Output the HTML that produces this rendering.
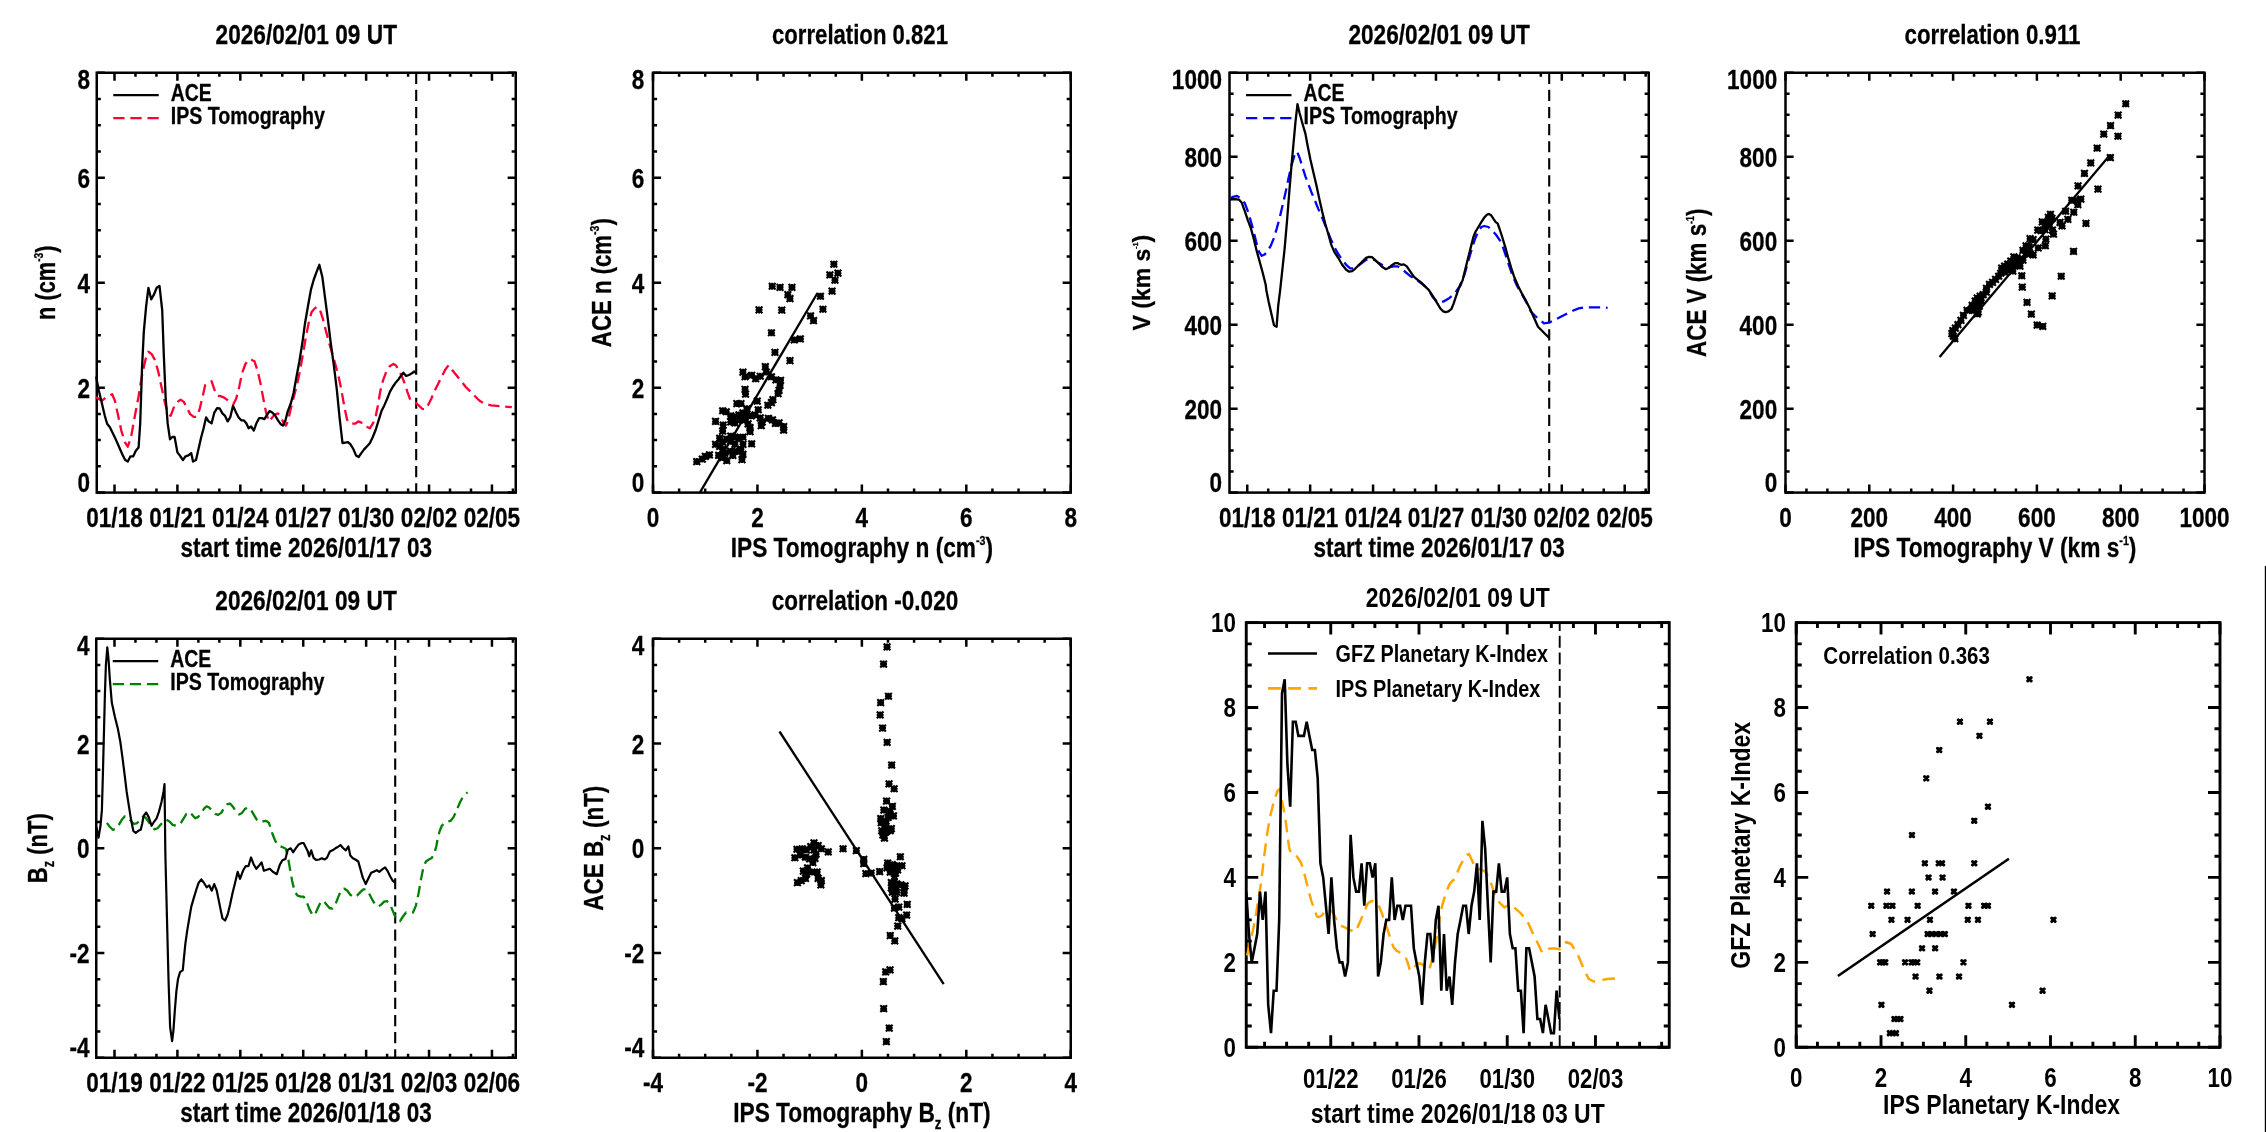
<!DOCTYPE html>
<html><head><meta charset="utf-8"><title>IPS Tomography vs ACE comparison</title>
<style>
html,body{margin:0;padding:0;background:#fff;}
body{width:2266px;height:1132px;overflow:hidden;}
svg{display:block;will-change:transform;font-family:'Liberation Sans', sans-serif;font-weight:bold;}
</style></head><body>
<svg width="2266" height="1132" viewBox="0 0 2266 1132">
<rect x="0" y="0" width="2266" height="1132" fill="#fff"/>
<rect x="96.75" y="72.75" width="419.00" height="419.85" fill="none" stroke="#000" stroke-width="2.5"/>
<path d="M114.50 72.75L114.50 76.85M114.50 492.60L114.50 488.50M135.47 72.75L135.47 76.85M135.47 492.60L135.47 488.50M156.44 72.75L156.44 76.85M156.44 492.60L156.44 488.50M177.41 72.75L177.41 76.85M177.41 492.60L177.41 488.50M198.38 72.75L198.38 76.85M198.38 492.60L198.38 488.50M219.35 72.75L219.35 76.85M219.35 492.60L219.35 488.50M240.32 72.75L240.32 76.85M240.32 492.60L240.32 488.50M261.29 72.75L261.29 76.85M261.29 492.60L261.29 488.50M282.26 72.75L282.26 76.85M282.26 492.60L282.26 488.50M303.23 72.75L303.23 76.85M303.23 492.60L303.23 488.50M324.20 72.75L324.20 76.85M324.20 492.60L324.20 488.50M345.17 72.75L345.17 76.85M345.17 492.60L345.17 488.50M366.14 72.75L366.14 76.85M366.14 492.60L366.14 488.50M387.11 72.75L387.11 76.85M387.11 492.60L387.11 488.50M408.08 72.75L408.08 76.85M408.08 492.60L408.08 488.50M429.05 72.75L429.05 76.85M429.05 492.60L429.05 488.50M450.02 72.75L450.02 76.85M450.02 492.60L450.02 488.50M470.99 72.75L470.99 76.85M470.99 492.60L470.99 488.50M491.96 72.75L491.96 76.85M491.96 492.60L491.96 488.50M512.93 72.75L512.93 76.85M512.93 492.60L512.93 488.50M114.50 72.75L114.50 80.85M114.50 492.60L114.50 484.50M177.41 72.75L177.41 80.85M177.41 492.60L177.41 484.50M240.32 72.75L240.32 80.85M240.32 492.60L240.32 484.50M303.23 72.75L303.23 80.85M303.23 492.60L303.23 484.50M366.14 72.75L366.14 80.85M366.14 492.60L366.14 484.50M429.05 72.75L429.05 80.85M429.05 492.60L429.05 484.50M491.96 72.75L491.96 80.85M491.96 492.60L491.96 484.50M96.75 72.75L100.85 72.75M515.75 72.75L511.65 72.75M96.75 98.99L100.85 98.99M515.75 98.99L511.65 98.99M96.75 125.23L100.85 125.23M515.75 125.23L511.65 125.23M96.75 151.47L100.85 151.47M515.75 151.47L511.65 151.47M96.75 177.71L100.85 177.71M515.75 177.71L511.65 177.71M96.75 203.95L100.85 203.95M515.75 203.95L511.65 203.95M96.75 230.19L100.85 230.19M515.75 230.19L511.65 230.19M96.75 256.43L100.85 256.43M515.75 256.43L511.65 256.43M96.75 282.68L100.85 282.68M515.75 282.68L511.65 282.68M96.75 308.92L100.85 308.92M515.75 308.92L511.65 308.92M96.75 335.16L100.85 335.16M515.75 335.16L511.65 335.16M96.75 361.40L100.85 361.40M515.75 361.40L511.65 361.40M96.75 387.64L100.85 387.64M515.75 387.64L511.65 387.64M96.75 413.88L100.85 413.88M515.75 413.88L511.65 413.88M96.75 440.12L100.85 440.12M515.75 440.12L511.65 440.12M96.75 466.36L100.85 466.36M515.75 466.36L511.65 466.36M96.75 492.60L100.85 492.60M515.75 492.60L511.65 492.60M96.75 72.75L104.85 72.75M515.75 72.75L507.65 72.75M96.75 177.71L104.85 177.71M515.75 177.71L507.65 177.71M96.75 282.68L104.85 282.68M515.75 282.68L507.65 282.68M96.75 387.64L104.85 387.64M515.75 387.64L507.65 387.64M96.75 492.60L104.85 492.60M515.75 492.60L507.65 492.60" stroke="#000" stroke-width="2.5" fill="none"/>
<text transform="translate(114.50,527.30) scale(0.7940,1)" font-size="28.4" text-anchor="middle" fill="#000" stroke="#000" stroke-width="0.3">01/18</text>
<text transform="translate(177.41,527.30) scale(0.7940,1)" font-size="28.4" text-anchor="middle" fill="#000" stroke="#000" stroke-width="0.3">01/21</text>
<text transform="translate(240.32,527.30) scale(0.7940,1)" font-size="28.4" text-anchor="middle" fill="#000" stroke="#000" stroke-width="0.3">01/24</text>
<text transform="translate(303.23,527.30) scale(0.7940,1)" font-size="28.4" text-anchor="middle" fill="#000" stroke="#000" stroke-width="0.3">01/27</text>
<text transform="translate(366.14,527.30) scale(0.7940,1)" font-size="28.4" text-anchor="middle" fill="#000" stroke="#000" stroke-width="0.3">01/30</text>
<text transform="translate(429.05,527.30) scale(0.7940,1)" font-size="28.4" text-anchor="middle" fill="#000" stroke="#000" stroke-width="0.3">02/02</text>
<text transform="translate(491.96,527.30) scale(0.7940,1)" font-size="28.4" text-anchor="middle" fill="#000" stroke="#000" stroke-width="0.3">02/05</text>
<text transform="translate(89.95,89.35) scale(0.7940,1)" font-size="28.4" text-anchor="end" fill="#000" stroke="#000" stroke-width="0.3">8</text>
<text transform="translate(89.95,187.71) scale(0.7940,1)" font-size="28.4" text-anchor="end" fill="#000" stroke="#000" stroke-width="0.3">6</text>
<text transform="translate(89.95,292.68) scale(0.7940,1)" font-size="28.4" text-anchor="end" fill="#000" stroke="#000" stroke-width="0.3">4</text>
<text transform="translate(89.95,397.64) scale(0.7940,1)" font-size="28.4" text-anchor="end" fill="#000" stroke="#000" stroke-width="0.3">2</text>
<text transform="translate(89.95,492.30) scale(0.7940,1)" font-size="28.4" text-anchor="end" fill="#000" stroke="#000" stroke-width="0.3">0</text>
<text transform="translate(306.25,44.05) scale(0.7983,1)" font-size="28.4" text-anchor="middle" fill="#000" stroke="#000" stroke-width="0.3">2026/02/01 09 UT</text>
<text transform="translate(306.25,557.00) scale(0.7925,1)" font-size="28.4" text-anchor="middle" fill="#000" stroke="#000" stroke-width="0.3">start time 2026/01/17 03</text>
<text transform="translate(55.10,282.68) rotate(-90) scale(0.7675,1)" text-anchor="middle" stroke="#000" stroke-width="0.3"><tspan font-size="28.4">n (cm</tspan><tspan dy="-12.07" font-size="13.35">-3</tspan><tspan dy="12.07" font-size="28.4">)</tspan></text>
<line x1="416.20" y1="72.75" x2="416.20" y2="492.60" stroke="#000" stroke-width="2.1" stroke-dasharray="11.2 5.9" stroke-linecap="butt"/>
<polyline points="96.1,397.3 101.8,400.8 107.1,396.2 112.2,394.3 114.9,400.8 117.9,414.5 121.3,430.6 124.8,442.1 127.8,446.7 131.0,437.5 134.7,416.8 138.6,396.2 142.0,375.5 145.5,359.4 148.4,351.8 151.7,354.1 154.6,359.4 158.1,370.9 161.5,387.0 165.0,403.1 168.4,414.5 170.7,415.7 174.2,406.5 177.6,401.9 180.6,399.6 183.8,401.9 186.8,407.6 190.2,414.1 193.7,416.8 196.7,416.8 199.4,409.9 202.2,398.5 205.2,385.1 208.6,382.8 211.6,381.2 214.3,389.3 217.3,395.7 220.5,396.2 223.5,397.3 227.0,399.6 230.4,403.1 233.4,404.2 236.2,398.5 239.2,387.0 242.1,373.2 245.4,364.0 248.8,359.4 251.8,359.9 254.5,361.3 257.3,369.8 260.3,382.4 263.3,398.5 266.0,412.2 268.8,421.4 271.8,418.0 274.7,414.5 278.0,413.4 280.9,416.8 283.9,423.7 286.0,425.6 287.8,421.4 290.8,408.8 294.0,396.2 297.0,384.7 300.0,370.9 302.8,354.8 305.8,337.6 308.7,322.7 311.5,312.3 314.2,308.9 317.0,306.6 320.0,310.0 323.0,319.2 326.2,331.9 329.2,343.3 332.6,354.8 335.6,365.2 338.4,375.5 341.3,389.3 344.1,405.4 346.9,419.1 349.2,423.3 352.1,423.7 355.1,423.7 358.3,421.4 361.3,422.6 364.8,423.7 367.5,427.2 369.8,428.3 372.8,423.7 375.6,416.8 377.9,405.4 380.2,391.6 383.1,380.1 386.6,370.9 390.0,365.9 393.5,364.0 395.8,365.2 398.8,370.4 401.5,375.5 404.3,382.4 407.3,391.6 410.2,399.6 413.0,401.9 416.0,403.1 418.7,405.4 422.2,408.8 425.2,409.5 427.9,405.4 431.4,398.5 434.8,390.4 438.3,383.5 441.7,376.6 445.2,369.8 448.6,365.2 452.0,369.8 456.6,375.5 461.2,381.2 465.8,387.0 470.4,391.6 475.0,396.2 479.6,400.8 484.2,403.5 491.1,405.4 500.3,406.3 511.8,407.2" fill="none" stroke="#ff0033" stroke-width="2.3" stroke-dasharray="11.3 5.8" stroke-linejoin="round" stroke-linecap="butt"/>
<polyline points="96.1,376.6 98.8,390.4 101.8,403.1 104.8,415.7 107.1,423.7 109.9,427.2 114.4,436.4 119.0,446.7 122.5,454.7 125.2,460.0 127.8,461.6 130.5,456.3 133.3,456.3 135.8,450.8 138.6,447.4 140.2,423.7 142.0,368.6 143.8,331.9 146.1,306.6 148.4,287.8 151.2,299.3 153.9,294.7 156.7,287.8 159.5,285.9 162.2,310.0 163.8,354.8 165.7,398.5 167.7,423.7 170.0,439.3 172.3,437.0 174.6,437.0 177.4,452.4 180.1,455.9 182.9,460.0 185.6,456.3 188.4,455.4 191.2,453.1 193.0,461.6 196.0,460.0 198.5,449.0 201.0,438.0 203.6,428.3 206.1,417.3 208.6,421.4 211.6,423.3 214.3,412.7 217.1,408.1 219.6,408.3 222.4,413.4 225.1,415.9 227.7,421.4 230.4,416.8 233.0,405.8 235.7,411.8 238.5,417.3 241.2,420.3 243.7,420.3 246.3,423.3 248.6,428.3 251.1,426.5 253.8,430.6 256.4,423.3 259.1,418.2 261.9,418.2 264.4,419.1 267.2,414.5 269.7,410.9 272.5,412.7 275.2,415.5 278.0,420.3 280.7,424.2 283.0,425.6 285.5,420.3 287.8,411.1 290.8,403.5 293.6,392.7 296.3,377.8 299.3,361.7 302.3,343.3 305.1,322.7 308.3,304.3 311.0,289.4 313.8,279.5 316.5,272.2 319.3,264.8 322.3,276.7 325.0,297.4 328.0,320.4 330.8,343.3 333.8,365.2 336.8,389.3 339.5,416.8 342.5,443.2 345.3,442.6 348.0,442.1 350.5,444.4 353.3,449.0 356.0,455.4 358.6,457.0 361.3,453.1 364.1,449.4 367.1,446.2 369.8,443.2 372.8,437.0 375.8,429.5 378.6,420.3 381.5,411.1 384.3,405.4 387.3,398.5 390.0,391.6 393.0,386.5 395.8,382.4 398.8,378.9 401.5,375.0 403.4,372.7 406.1,376.0 408.9,375.0 411.9,373.2 414.4,371.4 416.0,373.2" fill="none" stroke="#000" stroke-width="2.3" stroke-linejoin="round" stroke-linecap="butt"/>
<line x1="113.25" y1="95.05" x2="158.75" y2="95.05" stroke="#000" stroke-width="2.3" stroke-linecap="butt"/>
<line x1="113.25" y1="118.05" x2="158.75" y2="118.05" stroke="#ff0033" stroke-width="2.3" stroke-dasharray="11.3 5.8" stroke-linecap="butt"/>
<text transform="translate(170.75,100.55) scale(0.8200,1)" font-size="23.7" text-anchor="start" fill="#000" stroke="#000" stroke-width="0.3">ACE</text>
<text transform="translate(170.75,123.75) scale(0.8271,1)" font-size="23.7" text-anchor="start" fill="#000" stroke="#000" stroke-width="0.3">IPS Tomography</text>
<rect x="653.00" y="72.75" width="417.75" height="419.85" fill="none" stroke="#000" stroke-width="2.5"/>
<path d="M653.00 72.75L653.00 76.85M653.00 492.60L653.00 488.50M679.11 72.75L679.11 76.85M679.11 492.60L679.11 488.50M705.22 72.75L705.22 76.85M705.22 492.60L705.22 488.50M731.33 72.75L731.33 76.85M731.33 492.60L731.33 488.50M757.44 72.75L757.44 76.85M757.44 492.60L757.44 488.50M783.55 72.75L783.55 76.85M783.55 492.60L783.55 488.50M809.66 72.75L809.66 76.85M809.66 492.60L809.66 488.50M835.77 72.75L835.77 76.85M835.77 492.60L835.77 488.50M861.88 72.75L861.88 76.85M861.88 492.60L861.88 488.50M887.98 72.75L887.98 76.85M887.98 492.60L887.98 488.50M914.09 72.75L914.09 76.85M914.09 492.60L914.09 488.50M940.20 72.75L940.20 76.85M940.20 492.60L940.20 488.50M966.31 72.75L966.31 76.85M966.31 492.60L966.31 488.50M992.42 72.75L992.42 76.85M992.42 492.60L992.42 488.50M1018.53 72.75L1018.53 76.85M1018.53 492.60L1018.53 488.50M1044.64 72.75L1044.64 76.85M1044.64 492.60L1044.64 488.50M1070.75 72.75L1070.75 76.85M1070.75 492.60L1070.75 488.50M653.00 72.75L653.00 80.85M653.00 492.60L653.00 484.50M757.44 72.75L757.44 80.85M757.44 492.60L757.44 484.50M861.88 72.75L861.88 80.85M861.88 492.60L861.88 484.50M966.31 72.75L966.31 80.85M966.31 492.60L966.31 484.50M1070.75 72.75L1070.75 80.85M1070.75 492.60L1070.75 484.50M653.00 72.75L657.10 72.75M1070.75 72.75L1066.65 72.75M653.00 98.99L657.10 98.99M1070.75 98.99L1066.65 98.99M653.00 125.23L657.10 125.23M1070.75 125.23L1066.65 125.23M653.00 151.47L657.10 151.47M1070.75 151.47L1066.65 151.47M653.00 177.71L657.10 177.71M1070.75 177.71L1066.65 177.71M653.00 203.95L657.10 203.95M1070.75 203.95L1066.65 203.95M653.00 230.19L657.10 230.19M1070.75 230.19L1066.65 230.19M653.00 256.43L657.10 256.43M1070.75 256.43L1066.65 256.43M653.00 282.68L657.10 282.68M1070.75 282.68L1066.65 282.68M653.00 308.92L657.10 308.92M1070.75 308.92L1066.65 308.92M653.00 335.16L657.10 335.16M1070.75 335.16L1066.65 335.16M653.00 361.40L657.10 361.40M1070.75 361.40L1066.65 361.40M653.00 387.64L657.10 387.64M1070.75 387.64L1066.65 387.64M653.00 413.88L657.10 413.88M1070.75 413.88L1066.65 413.88M653.00 440.12L657.10 440.12M1070.75 440.12L1066.65 440.12M653.00 466.36L657.10 466.36M1070.75 466.36L1066.65 466.36M653.00 492.60L657.10 492.60M1070.75 492.60L1066.65 492.60M653.00 72.75L661.10 72.75M1070.75 72.75L1062.65 72.75M653.00 177.71L661.10 177.71M1070.75 177.71L1062.65 177.71M653.00 282.68L661.10 282.68M1070.75 282.68L1062.65 282.68M653.00 387.64L661.10 387.64M1070.75 387.64L1062.65 387.64M653.00 492.60L661.10 492.60M1070.75 492.60L1062.65 492.60" stroke="#000" stroke-width="2.5" fill="none"/>
<text transform="translate(653.00,527.30) scale(0.7940,1)" font-size="28.4" text-anchor="middle" fill="#000" stroke="#000" stroke-width="0.3">0</text>
<text transform="translate(757.44,527.30) scale(0.7940,1)" font-size="28.4" text-anchor="middle" fill="#000" stroke="#000" stroke-width="0.3">2</text>
<text transform="translate(861.88,527.30) scale(0.7940,1)" font-size="28.4" text-anchor="middle" fill="#000" stroke="#000" stroke-width="0.3">4</text>
<text transform="translate(966.31,527.30) scale(0.7940,1)" font-size="28.4" text-anchor="middle" fill="#000" stroke="#000" stroke-width="0.3">6</text>
<text transform="translate(1070.75,527.30) scale(0.7940,1)" font-size="28.4" text-anchor="middle" fill="#000" stroke="#000" stroke-width="0.3">8</text>
<text transform="translate(644.30,89.35) scale(0.7940,1)" font-size="28.4" text-anchor="end" fill="#000" stroke="#000" stroke-width="0.3">8</text>
<text transform="translate(644.30,187.71) scale(0.7940,1)" font-size="28.4" text-anchor="end" fill="#000" stroke="#000" stroke-width="0.3">6</text>
<text transform="translate(644.30,292.68) scale(0.7940,1)" font-size="28.4" text-anchor="end" fill="#000" stroke="#000" stroke-width="0.3">4</text>
<text transform="translate(644.30,397.64) scale(0.7940,1)" font-size="28.4" text-anchor="end" fill="#000" stroke="#000" stroke-width="0.3">2</text>
<text transform="translate(644.30,492.30) scale(0.7940,1)" font-size="28.4" text-anchor="end" fill="#000" stroke="#000" stroke-width="0.3">0</text>
<text transform="translate(859.98,44.05) scale(0.7797,1)" font-size="28.4" text-anchor="middle" fill="#000" stroke="#000" stroke-width="0.3">correlation 0.821</text>
<text transform="translate(861.88,557.00) scale(0.7991,1)" text-anchor="middle" stroke="#000" stroke-width="0.3"><tspan font-size="28.4">IPS Tomography n (cm</tspan><tspan dy="-12.07" font-size="13.35">-3</tspan><tspan dy="12.07" font-size="28.4">)</tspan></text>
<text transform="translate(610.60,282.68) rotate(-90) scale(0.7822,1)" text-anchor="middle" stroke="#000" stroke-width="0.3"><tspan font-size="28.4">ACE n (cm</tspan><tspan dy="-12.07" font-size="13.35">-3</tspan><tspan dy="12.07" font-size="28.4">)</tspan></text>
<path d="M830.4 264.2h6.9M833.9 260.8v6.9M830.5 260.9l6.7 6.7M830.5 267.6l6.7 -6.7M834.5 273.2h6.9M837.9 269.7v6.9M834.6 269.8l6.7 6.7M834.6 276.5l6.7 -6.7M826.4 274.9h6.9M829.8 271.4v6.9M826.5 271.5l6.7 6.7M826.5 278.2l6.7 -6.7M831.5 280.3h6.9M834.9 276.8v6.9M831.6 276.9l6.7 6.7M831.6 283.6l6.7 -6.7M828.6 291.1h6.9M832.1 287.7v6.9M828.7 287.8l6.7 6.7M828.7 294.5l6.7 -6.7M817.0 296.2h6.9M820.5 292.8v6.9M817.1 292.9l6.7 6.7M817.1 299.6l6.7 -6.7M819.5 309.2h6.9M822.9 305.8v6.9M819.6 305.9l6.7 6.7M819.6 312.6l6.7 -6.7M807.1 315.8h6.9M810.5 312.4v6.9M807.2 312.5l6.7 6.7M807.2 319.2l6.7 -6.7M810.1 320.6h6.9M813.6 317.1v6.9M810.2 317.2l6.7 6.7M810.2 323.9l6.7 -6.7M768.8 286.3h6.9M772.2 282.8v6.9M768.9 282.9l6.7 6.7M768.9 289.6l6.7 -6.7M776.6 287.4h6.9M780.1 283.9v6.9M776.7 284.0l6.7 6.7M776.7 290.7l6.7 -6.7M788.5 287.4h6.9M791.9 283.9v6.9M788.6 284.0l6.7 6.7M788.6 290.7l6.7 -6.7M784.4 294.7h6.9M787.9 291.2v6.9M784.5 291.3l6.7 6.7M784.5 298.0l6.7 -6.7M786.5 298.6h6.9M789.9 295.1v6.9M786.6 295.2l6.7 6.7M786.6 301.9l6.7 -6.7M755.6 309.9h6.9M759.0 306.5v6.9M755.7 306.6l6.7 6.7M755.7 313.3l6.7 -6.7M778.3 310.1h6.9M781.8 306.7v6.9M778.4 306.8l6.7 6.7M778.4 313.5l6.7 -6.7M768.0 332.8h6.9M771.4 329.3v6.9M768.1 329.4l6.7 6.7M768.1 336.1l6.7 -6.7M790.8 339.9h6.9M794.3 336.4v6.9M790.9 336.5l6.7 6.7M790.9 343.2l6.7 -6.7M796.9 338.9h6.9M800.4 335.4v6.9M797.0 335.5l6.7 6.7M797.0 342.2l6.7 -6.7M771.5 352.4h6.9M775.0 348.9v6.9M771.6 349.0l6.7 6.7M771.6 355.7l6.7 -6.7M786.5 360.5h6.9M789.9 357.1v6.9M786.6 357.2l6.7 6.7M786.6 363.9l6.7 -6.7M761.9 366.6h6.9M765.3 363.2v6.9M762.0 363.3l6.7 6.7M762.0 369.9l6.7 -6.7M739.5 372.2h6.9M743.0 368.7v6.9M739.6 368.8l6.7 6.7M739.6 375.5l6.7 -6.7M741.6 376.8h6.9M745.0 373.3v6.9M741.7 373.4l6.7 6.7M741.7 380.1l6.7 -6.7M748.2 375.2h6.9M751.6 371.8v6.9M748.3 371.9l6.7 6.7M748.3 378.6l6.7 -6.7M752.2 378.8h6.9M755.7 375.3v6.9M752.3 375.4l6.7 6.7M752.3 382.1l6.7 -6.7M756.8 376.3h6.9M760.2 372.8v6.9M756.9 372.9l6.7 6.7M756.9 379.6l6.7 -6.7M762.9 372.2h6.9M766.3 368.7v6.9M763.0 368.8l6.7 6.7M763.0 375.5l6.7 -6.7M768.0 376.8h6.9M771.4 373.3v6.9M768.1 373.4l6.7 6.7M768.1 380.1l6.7 -6.7M772.5 379.8h6.9M776.0 376.4v6.9M772.6 376.5l6.7 6.7M772.6 383.2l6.7 -6.7M777.1 380.3h6.9M780.6 376.9v6.9M777.2 377.0l6.7 6.7M777.2 383.7l6.7 -6.7M776.6 385.4h6.9M780.1 381.9v6.9M776.7 382.0l6.7 6.7M776.7 388.7l6.7 -6.7M775.6 390.5h6.9M779.0 387.0v6.9M775.7 387.1l6.7 6.7M775.7 393.8l6.7 -6.7M774.6 393.5h6.9M778.0 390.1v6.9M774.7 390.2l6.7 6.7M774.7 396.9l6.7 -6.7M741.6 389.5h6.9M745.0 386.0v6.9M741.7 386.1l6.7 6.7M741.7 392.8l6.7 -6.7M742.1 394.0h6.9M745.5 390.6v6.9M742.2 390.7l6.7 6.7M742.2 397.4l6.7 -6.7M769.5 399.6h6.9M772.9 396.2v6.9M769.6 396.3l6.7 6.7M769.6 403.0l6.7 -6.7M768.0 402.7h6.9M771.4 399.2v6.9M768.1 399.3l6.7 6.7M768.1 406.0l6.7 -6.7M764.4 405.2h6.9M767.9 401.8v6.9M764.5 401.9l6.7 6.7M764.5 408.5l6.7 -6.7M753.7 401.1h6.9M757.2 397.7v6.9M753.9 397.8l6.7 6.7M753.9 404.5l6.7 -6.7M733.4 403.7h6.9M736.9 400.2v6.9M733.5 400.3l6.7 6.7M733.5 407.0l6.7 -6.7M737.5 403.7h6.9M740.9 400.2v6.9M737.6 400.3l6.7 6.7M737.6 407.0l6.7 -6.7M743.6 408.8h6.9M747.0 405.3v6.9M743.7 405.4l6.7 6.7M743.7 412.1l6.7 -6.7M754.8 409.8h6.9M758.2 406.3v6.9M754.9 406.4l6.7 6.7M754.9 413.1l6.7 -6.7M719.2 410.8h6.9M722.7 407.3v6.9M719.3 407.4l6.7 6.7M719.3 414.1l6.7 -6.7M722.8 411.8h6.9M726.2 408.4v6.9M722.9 408.5l6.7 6.7M722.9 415.1l6.7 -6.7M727.3 415.9h6.9M730.8 412.4v6.9M727.4 412.5l6.7 6.7M727.4 419.2l6.7 -6.7M731.4 416.9h6.9M734.9 413.4v6.9M731.5 413.5l6.7 6.7M731.5 420.2l6.7 -6.7M735.5 414.9h6.9M738.9 411.4v6.9M735.6 411.5l6.7 6.7M735.6 418.2l6.7 -6.7M739.5 412.8h6.9M743.0 409.4v6.9M739.6 409.5l6.7 6.7M739.6 416.2l6.7 -6.7M743.6 413.8h6.9M747.0 410.4v6.9M743.7 410.5l6.7 6.7M743.7 417.2l6.7 -6.7M747.7 415.9h6.9M751.1 412.4v6.9M747.8 412.5l6.7 6.7M747.8 419.2l6.7 -6.7M751.7 414.9h6.9M755.2 411.4v6.9M751.8 411.5l6.7 6.7M751.8 418.2l6.7 -6.7M756.8 417.9h6.9M760.2 414.4v6.9M756.9 414.6l6.7 6.7M756.9 421.2l6.7 -6.7M758.8 422.0h6.9M762.3 418.5v6.9M758.9 418.6l6.7 6.7M758.9 425.3l6.7 -6.7M757.8 425.5h6.9M761.3 422.1v6.9M757.9 422.2l6.7 6.7M757.9 428.9l6.7 -6.7M764.9 418.4h6.9M768.4 415.0v6.9M765.0 415.1l6.7 6.7M765.0 421.8l6.7 -6.7M769.0 419.9h6.9M772.4 416.5v6.9M769.1 416.6l6.7 6.7M769.1 423.3l6.7 -6.7M772.0 423.5h6.9M775.5 420.0v6.9M772.1 420.1l6.7 6.7M772.1 426.8l6.7 -6.7M775.6 423.0h6.9M779.0 419.5v6.9M775.7 419.6l6.7 6.7M775.7 426.3l6.7 -6.7M780.2 426.5h6.9M783.6 423.1v6.9M780.3 423.2l6.7 6.7M780.3 429.9l6.7 -6.7M780.2 430.1h6.9M783.6 426.6v6.9M780.3 426.7l6.7 6.7M780.3 433.4l6.7 -6.7M712.1 421.5h6.9M715.6 418.0v6.9M712.2 418.1l6.7 6.7M712.2 424.8l6.7 -6.7M719.7 425.0h6.9M723.2 421.6v6.9M719.8 421.7l6.7 6.7M719.8 428.4l6.7 -6.7M719.2 431.1h6.9M722.7 427.7v6.9M719.3 427.8l6.7 6.7M719.3 434.4l6.7 -6.7M727.3 422.0h6.9M730.8 418.5v6.9M727.4 418.6l6.7 6.7M727.4 425.3l6.7 -6.7M731.4 423.0h6.9M734.9 419.5v6.9M731.5 419.6l6.7 6.7M731.5 426.3l6.7 -6.7M736.5 419.9h6.9M739.9 416.5v6.9M736.6 416.6l6.7 6.7M736.6 423.3l6.7 -6.7M741.6 419.9h6.9M745.0 416.5v6.9M741.7 416.6l6.7 6.7M741.7 423.3l6.7 -6.7M744.6 424.0h6.9M748.1 420.5v6.9M744.7 420.6l6.7 6.7M744.7 427.3l6.7 -6.7M746.6 427.5h6.9M750.1 424.1v6.9M746.7 424.2l6.7 6.7M746.7 430.9l6.7 -6.7M746.6 431.6h6.9M750.1 428.2v6.9M746.7 428.3l6.7 6.7M746.7 435.0l6.7 -6.7M727.3 436.2h6.9M730.8 432.7v6.9M727.4 432.8l6.7 6.7M727.4 439.5l6.7 -6.7M731.4 437.2h6.9M734.9 433.7v6.9M731.5 433.9l6.7 6.7M731.5 440.5l6.7 -6.7M735.5 437.7h6.9M738.9 434.3v6.9M735.6 434.4l6.7 6.7M735.6 441.1l6.7 -6.7M739.5 437.2h6.9M743.0 433.7v6.9M739.6 433.9l6.7 6.7M739.6 440.5l6.7 -6.7M716.2 438.2h6.9M719.6 434.8v6.9M716.3 434.9l6.7 6.7M716.3 441.6l6.7 -6.7M719.2 442.3h6.9M722.7 438.8v6.9M719.3 438.9l6.7 6.7M719.3 445.6l6.7 -6.7M712.1 444.3h6.9M715.6 440.9v6.9M712.2 441.0l6.7 6.7M712.2 447.7l6.7 -6.7M716.2 446.3h6.9M719.6 442.9v6.9M716.3 443.0l6.7 6.7M716.3 449.7l6.7 -6.7M719.2 449.4h6.9M722.7 445.9v6.9M719.3 446.0l6.7 6.7M719.3 452.7l6.7 -6.7M723.3 439.2h6.9M726.7 435.8v6.9M723.4 435.9l6.7 6.7M723.4 442.6l6.7 -6.7M727.3 441.3h6.9M730.8 437.8v6.9M727.4 437.9l6.7 6.7M727.4 444.6l6.7 -6.7M731.4 444.3h6.9M734.9 440.9v6.9M731.5 441.0l6.7 6.7M731.5 447.7l6.7 -6.7M739.5 444.3h6.9M743.0 440.9v6.9M739.6 441.0l6.7 6.7M739.6 447.7l6.7 -6.7M748.2 443.8h6.9M751.6 440.3v6.9M748.3 440.5l6.7 6.7M748.3 447.1l6.7 -6.7M737.5 449.4h6.9M740.9 445.9v6.9M737.6 446.0l6.7 6.7M737.6 452.7l6.7 -6.7M733.4 451.4h6.9M736.9 448.0v6.9M733.5 448.1l6.7 6.7M733.5 454.8l6.7 -6.7M727.3 451.4h6.9M730.8 448.0v6.9M727.4 448.1l6.7 6.7M727.4 454.8l6.7 -6.7M721.2 453.4h6.9M724.7 450.0v6.9M721.3 450.1l6.7 6.7M721.3 456.8l6.7 -6.7M715.1 455.5h6.9M718.6 452.0v6.9M715.3 452.1l6.7 6.7M715.3 458.8l6.7 -6.7M719.2 457.5h6.9M722.7 454.1v6.9M719.3 454.2l6.7 6.7M719.3 460.9l6.7 -6.7M723.3 460.6h6.9M726.7 457.1v6.9M723.4 457.2l6.7 6.7M723.4 463.9l6.7 -6.7M739.5 454.5h6.9M743.0 451.0v6.9M739.6 451.1l6.7 6.7M739.6 457.8l6.7 -6.7M738.5 459.5h6.9M742.0 456.1v6.9M738.6 456.2l6.7 6.7M738.6 462.9l6.7 -6.7M729.4 455.5h6.9M732.8 452.0v6.9M729.5 452.1l6.7 6.7M729.5 458.8l6.7 -6.7M706.0 455.0h6.9M709.5 451.5v6.9M706.1 451.6l6.7 6.7M706.1 458.3l6.7 -6.7M701.9 456.5h6.9M705.4 453.0v6.9M702.0 453.1l6.7 6.7M702.0 459.8l6.7 -6.7M698.9 459.0h6.9M702.3 455.6v6.9M699.0 455.7l6.7 6.7M699.0 462.4l6.7 -6.7M693.3 461.6h6.9M696.8 458.1v6.9M693.4 458.2l6.7 6.7M693.4 464.9l6.7 -6.7" stroke="#000" stroke-width="2.1" fill="none"/>
<path d="M831.0 264.2a2.9 2.9 0 1 0 5.8 0a2.9 2.9 0 1 0 -5.8 0zM835.0 273.2a2.9 2.9 0 1 0 5.8 0a2.9 2.9 0 1 0 -5.8 0zM826.9 274.9a2.9 2.9 0 1 0 5.8 0a2.9 2.9 0 1 0 -5.8 0zM832.0 280.3a2.9 2.9 0 1 0 5.8 0a2.9 2.9 0 1 0 -5.8 0zM829.2 291.1a2.9 2.9 0 1 0 5.8 0a2.9 2.9 0 1 0 -5.8 0zM817.6 296.2a2.9 2.9 0 1 0 5.8 0a2.9 2.9 0 1 0 -5.8 0zM820.0 309.2a2.9 2.9 0 1 0 5.8 0a2.9 2.9 0 1 0 -5.8 0zM807.6 315.8a2.9 2.9 0 1 0 5.8 0a2.9 2.9 0 1 0 -5.8 0zM810.7 320.6a2.9 2.9 0 1 0 5.8 0a2.9 2.9 0 1 0 -5.8 0zM769.3 286.3a2.9 2.9 0 1 0 5.8 0a2.9 2.9 0 1 0 -5.8 0zM777.2 287.4a2.9 2.9 0 1 0 5.8 0a2.9 2.9 0 1 0 -5.8 0zM789.0 287.4a2.9 2.9 0 1 0 5.8 0a2.9 2.9 0 1 0 -5.8 0zM785.0 294.7a2.9 2.9 0 1 0 5.8 0a2.9 2.9 0 1 0 -5.8 0zM787.0 298.6a2.9 2.9 0 1 0 5.8 0a2.9 2.9 0 1 0 -5.8 0zM756.1 309.9a2.9 2.9 0 1 0 5.8 0a2.9 2.9 0 1 0 -5.8 0zM778.9 310.1a2.9 2.9 0 1 0 5.8 0a2.9 2.9 0 1 0 -5.8 0zM768.5 332.8a2.9 2.9 0 1 0 5.8 0a2.9 2.9 0 1 0 -5.8 0zM791.4 339.9a2.9 2.9 0 1 0 5.8 0a2.9 2.9 0 1 0 -5.8 0zM797.5 338.9a2.9 2.9 0 1 0 5.8 0a2.9 2.9 0 1 0 -5.8 0zM772.1 352.4a2.9 2.9 0 1 0 5.8 0a2.9 2.9 0 1 0 -5.8 0zM787.0 360.5a2.9 2.9 0 1 0 5.8 0a2.9 2.9 0 1 0 -5.8 0zM762.4 366.6a2.9 2.9 0 1 0 5.8 0a2.9 2.9 0 1 0 -5.8 0zM740.1 372.2a2.9 2.9 0 1 0 5.8 0a2.9 2.9 0 1 0 -5.8 0zM742.1 376.8a2.9 2.9 0 1 0 5.8 0a2.9 2.9 0 1 0 -5.8 0zM748.7 375.2a2.9 2.9 0 1 0 5.8 0a2.9 2.9 0 1 0 -5.8 0zM752.8 378.8a2.9 2.9 0 1 0 5.8 0a2.9 2.9 0 1 0 -5.8 0zM757.3 376.3a2.9 2.9 0 1 0 5.8 0a2.9 2.9 0 1 0 -5.8 0zM763.4 372.2a2.9 2.9 0 1 0 5.8 0a2.9 2.9 0 1 0 -5.8 0zM768.5 376.8a2.9 2.9 0 1 0 5.8 0a2.9 2.9 0 1 0 -5.8 0zM773.1 379.8a2.9 2.9 0 1 0 5.8 0a2.9 2.9 0 1 0 -5.8 0zM777.7 380.3a2.9 2.9 0 1 0 5.8 0a2.9 2.9 0 1 0 -5.8 0zM777.2 385.4a2.9 2.9 0 1 0 5.8 0a2.9 2.9 0 1 0 -5.8 0zM776.1 390.5a2.9 2.9 0 1 0 5.8 0a2.9 2.9 0 1 0 -5.8 0zM775.1 393.5a2.9 2.9 0 1 0 5.8 0a2.9 2.9 0 1 0 -5.8 0zM742.1 389.5a2.9 2.9 0 1 0 5.8 0a2.9 2.9 0 1 0 -5.8 0zM742.6 394.0a2.9 2.9 0 1 0 5.8 0a2.9 2.9 0 1 0 -5.8 0zM770.0 399.6a2.9 2.9 0 1 0 5.8 0a2.9 2.9 0 1 0 -5.8 0zM768.5 402.7a2.9 2.9 0 1 0 5.8 0a2.9 2.9 0 1 0 -5.8 0zM765.0 405.2a2.9 2.9 0 1 0 5.8 0a2.9 2.9 0 1 0 -5.8 0zM754.3 401.1a2.9 2.9 0 1 0 5.8 0a2.9 2.9 0 1 0 -5.8 0zM734.0 403.7a2.9 2.9 0 1 0 5.8 0a2.9 2.9 0 1 0 -5.8 0zM738.0 403.7a2.9 2.9 0 1 0 5.8 0a2.9 2.9 0 1 0 -5.8 0zM744.1 408.8a2.9 2.9 0 1 0 5.8 0a2.9 2.9 0 1 0 -5.8 0zM755.3 409.8a2.9 2.9 0 1 0 5.8 0a2.9 2.9 0 1 0 -5.8 0zM719.8 410.8a2.9 2.9 0 1 0 5.8 0a2.9 2.9 0 1 0 -5.8 0zM723.3 411.8a2.9 2.9 0 1 0 5.8 0a2.9 2.9 0 1 0 -5.8 0zM727.9 415.9a2.9 2.9 0 1 0 5.8 0a2.9 2.9 0 1 0 -5.8 0zM732.0 416.9a2.9 2.9 0 1 0 5.8 0a2.9 2.9 0 1 0 -5.8 0zM736.0 414.9a2.9 2.9 0 1 0 5.8 0a2.9 2.9 0 1 0 -5.8 0zM740.1 412.8a2.9 2.9 0 1 0 5.8 0a2.9 2.9 0 1 0 -5.8 0zM744.1 413.8a2.9 2.9 0 1 0 5.8 0a2.9 2.9 0 1 0 -5.8 0zM748.2 415.9a2.9 2.9 0 1 0 5.8 0a2.9 2.9 0 1 0 -5.8 0zM752.3 414.9a2.9 2.9 0 1 0 5.8 0a2.9 2.9 0 1 0 -5.8 0zM757.3 417.9a2.9 2.9 0 1 0 5.8 0a2.9 2.9 0 1 0 -5.8 0zM759.4 422.0a2.9 2.9 0 1 0 5.8 0a2.9 2.9 0 1 0 -5.8 0zM758.4 425.5a2.9 2.9 0 1 0 5.8 0a2.9 2.9 0 1 0 -5.8 0zM765.5 418.4a2.9 2.9 0 1 0 5.8 0a2.9 2.9 0 1 0 -5.8 0zM769.5 419.9a2.9 2.9 0 1 0 5.8 0a2.9 2.9 0 1 0 -5.8 0zM772.6 423.5a2.9 2.9 0 1 0 5.8 0a2.9 2.9 0 1 0 -5.8 0zM776.1 423.0a2.9 2.9 0 1 0 5.8 0a2.9 2.9 0 1 0 -5.8 0zM780.7 426.5a2.9 2.9 0 1 0 5.8 0a2.9 2.9 0 1 0 -5.8 0zM780.7 430.1a2.9 2.9 0 1 0 5.8 0a2.9 2.9 0 1 0 -5.8 0zM712.7 421.5a2.9 2.9 0 1 0 5.8 0a2.9 2.9 0 1 0 -5.8 0zM720.3 425.0a2.9 2.9 0 1 0 5.8 0a2.9 2.9 0 1 0 -5.8 0zM719.8 431.1a2.9 2.9 0 1 0 5.8 0a2.9 2.9 0 1 0 -5.8 0zM727.9 422.0a2.9 2.9 0 1 0 5.8 0a2.9 2.9 0 1 0 -5.8 0zM732.0 423.0a2.9 2.9 0 1 0 5.8 0a2.9 2.9 0 1 0 -5.8 0zM737.0 419.9a2.9 2.9 0 1 0 5.8 0a2.9 2.9 0 1 0 -5.8 0zM742.1 419.9a2.9 2.9 0 1 0 5.8 0a2.9 2.9 0 1 0 -5.8 0zM745.2 424.0a2.9 2.9 0 1 0 5.8 0a2.9 2.9 0 1 0 -5.8 0zM747.2 427.5a2.9 2.9 0 1 0 5.8 0a2.9 2.9 0 1 0 -5.8 0zM747.2 431.6a2.9 2.9 0 1 0 5.8 0a2.9 2.9 0 1 0 -5.8 0zM727.9 436.2a2.9 2.9 0 1 0 5.8 0a2.9 2.9 0 1 0 -5.8 0zM732.0 437.2a2.9 2.9 0 1 0 5.8 0a2.9 2.9 0 1 0 -5.8 0zM736.0 437.7a2.9 2.9 0 1 0 5.8 0a2.9 2.9 0 1 0 -5.8 0zM740.1 437.2a2.9 2.9 0 1 0 5.8 0a2.9 2.9 0 1 0 -5.8 0zM716.7 438.2a2.9 2.9 0 1 0 5.8 0a2.9 2.9 0 1 0 -5.8 0zM719.8 442.3a2.9 2.9 0 1 0 5.8 0a2.9 2.9 0 1 0 -5.8 0zM712.7 444.3a2.9 2.9 0 1 0 5.8 0a2.9 2.9 0 1 0 -5.8 0zM716.7 446.3a2.9 2.9 0 1 0 5.8 0a2.9 2.9 0 1 0 -5.8 0zM719.8 449.4a2.9 2.9 0 1 0 5.8 0a2.9 2.9 0 1 0 -5.8 0zM723.8 439.2a2.9 2.9 0 1 0 5.8 0a2.9 2.9 0 1 0 -5.8 0zM727.9 441.3a2.9 2.9 0 1 0 5.8 0a2.9 2.9 0 1 0 -5.8 0zM732.0 444.3a2.9 2.9 0 1 0 5.8 0a2.9 2.9 0 1 0 -5.8 0zM740.1 444.3a2.9 2.9 0 1 0 5.8 0a2.9 2.9 0 1 0 -5.8 0zM748.7 443.8a2.9 2.9 0 1 0 5.8 0a2.9 2.9 0 1 0 -5.8 0zM738.0 449.4a2.9 2.9 0 1 0 5.8 0a2.9 2.9 0 1 0 -5.8 0zM734.0 451.4a2.9 2.9 0 1 0 5.8 0a2.9 2.9 0 1 0 -5.8 0zM727.9 451.4a2.9 2.9 0 1 0 5.8 0a2.9 2.9 0 1 0 -5.8 0zM721.8 453.4a2.9 2.9 0 1 0 5.8 0a2.9 2.9 0 1 0 -5.8 0zM715.7 455.5a2.9 2.9 0 1 0 5.8 0a2.9 2.9 0 1 0 -5.8 0zM719.8 457.5a2.9 2.9 0 1 0 5.8 0a2.9 2.9 0 1 0 -5.8 0zM723.8 460.6a2.9 2.9 0 1 0 5.8 0a2.9 2.9 0 1 0 -5.8 0zM740.1 454.5a2.9 2.9 0 1 0 5.8 0a2.9 2.9 0 1 0 -5.8 0zM739.1 459.5a2.9 2.9 0 1 0 5.8 0a2.9 2.9 0 1 0 -5.8 0zM729.9 455.5a2.9 2.9 0 1 0 5.8 0a2.9 2.9 0 1 0 -5.8 0zM706.6 455.0a2.9 2.9 0 1 0 5.8 0a2.9 2.9 0 1 0 -5.8 0zM702.5 456.5a2.9 2.9 0 1 0 5.8 0a2.9 2.9 0 1 0 -5.8 0zM699.4 459.0a2.9 2.9 0 1 0 5.8 0a2.9 2.9 0 1 0 -5.8 0zM693.9 461.6a2.9 2.9 0 1 0 5.8 0a2.9 2.9 0 1 0 -5.8 0z" fill="#000"/>
<line x1="700.00" y1="492.30" x2="817.50" y2="293.00" stroke="#000" stroke-width="2.3" stroke-linecap="butt"/>
<rect x="1229.50" y="72.75" width="419.25" height="419.85" fill="none" stroke="#000" stroke-width="2.5"/>
<path d="M1247.25 72.75L1247.25 76.85M1247.25 492.60L1247.25 488.50M1268.22 72.75L1268.22 76.85M1268.22 492.60L1268.22 488.50M1289.19 72.75L1289.19 76.85M1289.19 492.60L1289.19 488.50M1310.16 72.75L1310.16 76.85M1310.16 492.60L1310.16 488.50M1331.13 72.75L1331.13 76.85M1331.13 492.60L1331.13 488.50M1352.10 72.75L1352.10 76.85M1352.10 492.60L1352.10 488.50M1373.07 72.75L1373.07 76.85M1373.07 492.60L1373.07 488.50M1394.04 72.75L1394.04 76.85M1394.04 492.60L1394.04 488.50M1415.01 72.75L1415.01 76.85M1415.01 492.60L1415.01 488.50M1435.98 72.75L1435.98 76.85M1435.98 492.60L1435.98 488.50M1456.95 72.75L1456.95 76.85M1456.95 492.60L1456.95 488.50M1477.92 72.75L1477.92 76.85M1477.92 492.60L1477.92 488.50M1498.89 72.75L1498.89 76.85M1498.89 492.60L1498.89 488.50M1519.86 72.75L1519.86 76.85M1519.86 492.60L1519.86 488.50M1540.83 72.75L1540.83 76.85M1540.83 492.60L1540.83 488.50M1561.80 72.75L1561.80 76.85M1561.80 492.60L1561.80 488.50M1582.77 72.75L1582.77 76.85M1582.77 492.60L1582.77 488.50M1603.74 72.75L1603.74 76.85M1603.74 492.60L1603.74 488.50M1624.71 72.75L1624.71 76.85M1624.71 492.60L1624.71 488.50M1645.68 72.75L1645.68 76.85M1645.68 492.60L1645.68 488.50M1247.25 72.75L1247.25 80.85M1247.25 492.60L1247.25 484.50M1310.16 72.75L1310.16 80.85M1310.16 492.60L1310.16 484.50M1373.07 72.75L1373.07 80.85M1373.07 492.60L1373.07 484.50M1435.98 72.75L1435.98 80.85M1435.98 492.60L1435.98 484.50M1498.89 72.75L1498.89 80.85M1498.89 492.60L1498.89 484.50M1561.80 72.75L1561.80 80.85M1561.80 492.60L1561.80 484.50M1624.71 72.75L1624.71 80.85M1624.71 492.60L1624.71 484.50M1229.50 72.75L1233.60 72.75M1648.75 72.75L1644.65 72.75M1229.50 93.74L1233.60 93.74M1648.75 93.74L1644.65 93.74M1229.50 114.73L1233.60 114.73M1648.75 114.73L1644.65 114.73M1229.50 135.73L1233.60 135.73M1648.75 135.73L1644.65 135.73M1229.50 156.72L1233.60 156.72M1648.75 156.72L1644.65 156.72M1229.50 177.71L1233.60 177.71M1648.75 177.71L1644.65 177.71M1229.50 198.70L1233.60 198.70M1648.75 198.70L1644.65 198.70M1229.50 219.70L1233.60 219.70M1648.75 219.70L1644.65 219.70M1229.50 240.69L1233.60 240.69M1648.75 240.69L1644.65 240.69M1229.50 261.68L1233.60 261.68M1648.75 261.68L1644.65 261.68M1229.50 282.68L1233.60 282.68M1648.75 282.68L1644.65 282.68M1229.50 303.67L1233.60 303.67M1648.75 303.67L1644.65 303.67M1229.50 324.66L1233.60 324.66M1648.75 324.66L1644.65 324.66M1229.50 345.65L1233.60 345.65M1648.75 345.65L1644.65 345.65M1229.50 366.64L1233.60 366.64M1648.75 366.64L1644.65 366.64M1229.50 387.64L1233.60 387.64M1648.75 387.64L1644.65 387.64M1229.50 408.63L1233.60 408.63M1648.75 408.63L1644.65 408.63M1229.50 429.62L1233.60 429.62M1648.75 429.62L1644.65 429.62M1229.50 450.62L1233.60 450.62M1648.75 450.62L1644.65 450.62M1229.50 471.61L1233.60 471.61M1648.75 471.61L1644.65 471.61M1229.50 492.60L1233.60 492.60M1648.75 492.60L1644.65 492.60M1229.50 72.75L1237.60 72.75M1648.75 72.75L1640.65 72.75M1229.50 156.72L1237.60 156.72M1648.75 156.72L1640.65 156.72M1229.50 240.69L1237.60 240.69M1648.75 240.69L1640.65 240.69M1229.50 324.66L1237.60 324.66M1648.75 324.66L1640.65 324.66M1229.50 408.63L1237.60 408.63M1648.75 408.63L1640.65 408.63M1229.50 492.60L1237.60 492.60M1648.75 492.60L1640.65 492.60" stroke="#000" stroke-width="2.5" fill="none"/>
<text transform="translate(1247.25,527.30) scale(0.7940,1)" font-size="28.4" text-anchor="middle" fill="#000" stroke="#000" stroke-width="0.3">01/18</text>
<text transform="translate(1310.16,527.30) scale(0.7940,1)" font-size="28.4" text-anchor="middle" fill="#000" stroke="#000" stroke-width="0.3">01/21</text>
<text transform="translate(1373.07,527.30) scale(0.7940,1)" font-size="28.4" text-anchor="middle" fill="#000" stroke="#000" stroke-width="0.3">01/24</text>
<text transform="translate(1435.98,527.30) scale(0.7940,1)" font-size="28.4" text-anchor="middle" fill="#000" stroke="#000" stroke-width="0.3">01/27</text>
<text transform="translate(1498.89,527.30) scale(0.7940,1)" font-size="28.4" text-anchor="middle" fill="#000" stroke="#000" stroke-width="0.3">01/30</text>
<text transform="translate(1561.80,527.30) scale(0.7940,1)" font-size="28.4" text-anchor="middle" fill="#000" stroke="#000" stroke-width="0.3">02/02</text>
<text transform="translate(1624.71,527.30) scale(0.7940,1)" font-size="28.4" text-anchor="middle" fill="#000" stroke="#000" stroke-width="0.3">02/05</text>
<text transform="translate(1222.00,89.35) scale(0.7940,1)" font-size="28.4" text-anchor="end" fill="#000" stroke="#000" stroke-width="0.3">1000</text>
<text transform="translate(1222.00,166.72) scale(0.7940,1)" font-size="28.4" text-anchor="end" fill="#000" stroke="#000" stroke-width="0.3">800</text>
<text transform="translate(1222.00,250.69) scale(0.7940,1)" font-size="28.4" text-anchor="end" fill="#000" stroke="#000" stroke-width="0.3">600</text>
<text transform="translate(1222.00,334.66) scale(0.7940,1)" font-size="28.4" text-anchor="end" fill="#000" stroke="#000" stroke-width="0.3">400</text>
<text transform="translate(1222.00,418.63) scale(0.7940,1)" font-size="28.4" text-anchor="end" fill="#000" stroke="#000" stroke-width="0.3">200</text>
<text transform="translate(1222.00,492.30) scale(0.7940,1)" font-size="28.4" text-anchor="end" fill="#000" stroke="#000" stroke-width="0.3">0</text>
<text transform="translate(1439.12,44.05) scale(0.7983,1)" font-size="28.4" text-anchor="middle" fill="#000" stroke="#000" stroke-width="0.3">2026/02/01 09 UT</text>
<text transform="translate(1439.12,557.00) scale(0.7925,1)" font-size="28.4" text-anchor="middle" fill="#000" stroke="#000" stroke-width="0.3">start time 2026/01/17 03</text>
<text transform="translate(1149.70,282.68) rotate(-90) scale(0.9523,1)" text-anchor="middle" stroke="#000" stroke-width="0.3"><tspan font-size="24.2">V (km s</tspan><tspan dy="-11.62" font-size="7.26">-1</tspan><tspan dy="11.62" font-size="24.2">)</tspan></text>
<line x1="1549.20" y1="72.75" x2="1549.20" y2="492.60" stroke="#000" stroke-width="2.1" stroke-dasharray="11.2 5.9" stroke-linecap="butt"/>
<polyline points="1229.5,199.2 1232.9,196.8 1236.9,196.0 1240.8,198.2 1244.8,203.2 1247.8,211.1 1250.8,221.1 1253.8,232.0 1256.7,243.9 1259.1,251.9 1261.7,255.8 1264.7,254.5 1267.7,250.9 1270.7,245.9 1273.6,238.9 1276.6,229.0 1279.6,218.1 1282.6,205.2 1285.6,192.2 1288.5,178.3 1291.5,165.4 1294.5,155.5 1296.9,151.5 1299.5,157.5 1302.5,167.4 1305.4,176.3 1308.4,184.3 1311.4,192.2 1314.4,199.2 1318.4,209.1 1322.3,218.1 1326.3,228.0 1330.3,238.0 1334.3,246.9 1338.2,253.9 1342.2,259.8 1346.2,264.8 1350.2,268.4 1354.1,268.4 1358.1,265.8 1362.1,262.8 1366.1,259.8 1370.0,258.8 1374.0,259.8 1378.0,262.4 1382.0,264.8 1385.9,266.8 1389.9,267.2 1393.9,266.4 1397.9,266.4 1401.8,268.8 1405.8,272.3 1409.8,275.7 1413.8,278.3 1419.7,282.0 1424.7,286.0 1428.7,289.9 1432.6,296.9 1437.6,302.3 1443.6,301.5 1449.5,297.9 1454.5,293.9 1458.5,288.0 1460.5,285.7 1464.4,274.7 1468.4,260.8 1472.4,246.9 1475.4,238.0 1478.4,231.0 1481.3,227.0 1484.3,226.0 1488.3,227.0 1492.3,230.6 1496.2,235.0 1500.2,240.9 1503.2,247.9 1506.2,256.8 1509.2,265.8 1512.2,274.7 1517.1,286.0 1521.1,292.9 1526.1,301.9 1531.0,311.8 1535.0,315.8 1540.0,319.8 1544.0,323.3 1548.9,322.7 1554.9,319.8 1560.8,316.8 1566.8,313.8 1572.8,310.8 1578.7,308.4 1584.7,307.4 1592.7,307.4 1600.6,307.4 1607.6,307.8" fill="none" stroke="#0000ff" stroke-width="2.3" stroke-dasharray="11.3 5.8" stroke-linejoin="round" stroke-linecap="butt"/>
<polyline points="1229.5,199.6 1234.9,199.2 1238.9,199.6 1241.8,202.8 1244.8,211.1 1247.8,220.1 1250.8,228.0 1253.8,238.9 1256.7,250.9 1259.7,261.8 1262.7,272.7 1265.7,284.7 1266.3,289.9 1268.7,301.9 1271.6,314.8 1274.0,325.3 1276.6,326.7 1278.2,305.8 1280.2,289.9 1281.6,276.7 1284.6,248.9 1287.0,221.1 1289.5,189.3 1291.5,165.4 1293.5,143.5 1295.5,121.7 1297.5,104.2 1299.5,112.7 1302.5,123.7 1305.4,133.6 1307.4,144.5 1310.4,159.4 1313.4,172.4 1316.4,185.3 1319.4,199.2 1322.3,212.1 1325.3,224.0 1328.3,234.0 1331.3,244.9 1334.3,251.9 1338.2,257.8 1342.2,264.8 1346.2,269.8 1349.2,271.7 1352.1,271.1 1355.1,268.8 1358.1,265.8 1362.1,261.8 1366.1,257.8 1369.0,256.8 1372.0,257.2 1375.0,259.8 1378.0,262.8 1382.0,266.8 1385.9,269.2 1388.9,267.8 1391.9,265.2 1394.9,263.2 1397.9,263.2 1400.8,264.8 1403.8,264.4 1406.8,266.4 1409.8,270.8 1413.8,276.7 1416.7,279.1 1421.7,283.0 1425.7,287.0 1428.7,289.9 1431.7,294.3 1434.6,298.9 1437.6,303.9 1440.6,308.8 1443.2,311.4 1445.6,312.2 1448.5,311.4 1451.5,308.8 1453.5,303.9 1455.5,297.9 1457.9,290.9 1460.5,284.0 1462.5,280.7 1465.4,268.8 1468.4,256.8 1471.4,244.9 1473.4,237.0 1475.4,232.0 1478.4,227.0 1481.3,222.1 1484.3,217.5 1486.9,214.7 1488.9,213.9 1491.3,215.5 1493.3,218.7 1495.7,222.1 1497.6,223.4 1499.6,229.0 1502.2,237.0 1505.2,246.9 1508.2,257.8 1511.2,267.8 1514.1,276.7 1518.1,286.0 1522.1,293.9 1526.1,300.9 1530.0,308.8 1534.0,317.8 1538.0,326.7 1542.0,330.7 1545.9,334.7 1549.3,338.0" fill="none" stroke="#000" stroke-width="2.3" stroke-linejoin="round" stroke-linecap="butt"/>
<line x1="1246.00" y1="95.05" x2="1291.50" y2="95.05" stroke="#000" stroke-width="2.3" stroke-linecap="butt"/>
<line x1="1246.00" y1="118.05" x2="1291.50" y2="118.05" stroke="#0000ff" stroke-width="2.3" stroke-dasharray="11.3 5.8" stroke-linecap="butt"/>
<text transform="translate(1303.50,100.55) scale(0.8200,1)" font-size="23.7" text-anchor="start" fill="#000" stroke="#000" stroke-width="0.3">ACE</text>
<text transform="translate(1303.50,123.75) scale(0.8271,1)" font-size="23.7" text-anchor="start" fill="#000" stroke="#000" stroke-width="0.3">IPS Tomography</text>
<rect x="1785.50" y="72.75" width="419.00" height="419.85" fill="none" stroke="#000" stroke-width="2.5"/>
<path d="M1785.50 72.75L1785.50 76.85M1785.50 492.60L1785.50 488.50M1806.45 72.75L1806.45 76.85M1806.45 492.60L1806.45 488.50M1827.40 72.75L1827.40 76.85M1827.40 492.60L1827.40 488.50M1848.35 72.75L1848.35 76.85M1848.35 492.60L1848.35 488.50M1869.30 72.75L1869.30 76.85M1869.30 492.60L1869.30 488.50M1890.25 72.75L1890.25 76.85M1890.25 492.60L1890.25 488.50M1911.20 72.75L1911.20 76.85M1911.20 492.60L1911.20 488.50M1932.15 72.75L1932.15 76.85M1932.15 492.60L1932.15 488.50M1953.10 72.75L1953.10 76.85M1953.10 492.60L1953.10 488.50M1974.05 72.75L1974.05 76.85M1974.05 492.60L1974.05 488.50M1995.00 72.75L1995.00 76.85M1995.00 492.60L1995.00 488.50M2015.95 72.75L2015.95 76.85M2015.95 492.60L2015.95 488.50M2036.90 72.75L2036.90 76.85M2036.90 492.60L2036.90 488.50M2057.85 72.75L2057.85 76.85M2057.85 492.60L2057.85 488.50M2078.80 72.75L2078.80 76.85M2078.80 492.60L2078.80 488.50M2099.75 72.75L2099.75 76.85M2099.75 492.60L2099.75 488.50M2120.70 72.75L2120.70 76.85M2120.70 492.60L2120.70 488.50M2141.65 72.75L2141.65 76.85M2141.65 492.60L2141.65 488.50M2162.60 72.75L2162.60 76.85M2162.60 492.60L2162.60 488.50M2183.55 72.75L2183.55 76.85M2183.55 492.60L2183.55 488.50M2204.50 72.75L2204.50 76.85M2204.50 492.60L2204.50 488.50M1785.50 72.75L1785.50 80.85M1785.50 492.60L1785.50 484.50M1869.30 72.75L1869.30 80.85M1869.30 492.60L1869.30 484.50M1953.10 72.75L1953.10 80.85M1953.10 492.60L1953.10 484.50M2036.90 72.75L2036.90 80.85M2036.90 492.60L2036.90 484.50M2120.70 72.75L2120.70 80.85M2120.70 492.60L2120.70 484.50M2204.50 72.75L2204.50 80.85M2204.50 492.60L2204.50 484.50M1785.50 72.75L1789.60 72.75M2204.50 72.75L2200.40 72.75M1785.50 93.74L1789.60 93.74M2204.50 93.74L2200.40 93.74M1785.50 114.73L1789.60 114.73M2204.50 114.73L2200.40 114.73M1785.50 135.73L1789.60 135.73M2204.50 135.73L2200.40 135.73M1785.50 156.72L1789.60 156.72M2204.50 156.72L2200.40 156.72M1785.50 177.71L1789.60 177.71M2204.50 177.71L2200.40 177.71M1785.50 198.70L1789.60 198.70M2204.50 198.70L2200.40 198.70M1785.50 219.70L1789.60 219.70M2204.50 219.70L2200.40 219.70M1785.50 240.69L1789.60 240.69M2204.50 240.69L2200.40 240.69M1785.50 261.68L1789.60 261.68M2204.50 261.68L2200.40 261.68M1785.50 282.68L1789.60 282.68M2204.50 282.68L2200.40 282.68M1785.50 303.67L1789.60 303.67M2204.50 303.67L2200.40 303.67M1785.50 324.66L1789.60 324.66M2204.50 324.66L2200.40 324.66M1785.50 345.65L1789.60 345.65M2204.50 345.65L2200.40 345.65M1785.50 366.64L1789.60 366.64M2204.50 366.64L2200.40 366.64M1785.50 387.64L1789.60 387.64M2204.50 387.64L2200.40 387.64M1785.50 408.63L1789.60 408.63M2204.50 408.63L2200.40 408.63M1785.50 429.62L1789.60 429.62M2204.50 429.62L2200.40 429.62M1785.50 450.62L1789.60 450.62M2204.50 450.62L2200.40 450.62M1785.50 471.61L1789.60 471.61M2204.50 471.61L2200.40 471.61M1785.50 492.60L1789.60 492.60M2204.50 492.60L2200.40 492.60M1785.50 72.75L1793.60 72.75M2204.50 72.75L2196.40 72.75M1785.50 156.72L1793.60 156.72M2204.50 156.72L2196.40 156.72M1785.50 240.69L1793.60 240.69M2204.50 240.69L2196.40 240.69M1785.50 324.66L1793.60 324.66M2204.50 324.66L2196.40 324.66M1785.50 408.63L1793.60 408.63M2204.50 408.63L2196.40 408.63M1785.50 492.60L1793.60 492.60M2204.50 492.60L2196.40 492.60" stroke="#000" stroke-width="2.5" fill="none"/>
<text transform="translate(1785.50,527.30) scale(0.7940,1)" font-size="28.4" text-anchor="middle" fill="#000" stroke="#000" stroke-width="0.3">0</text>
<text transform="translate(1869.30,527.30) scale(0.7940,1)" font-size="28.4" text-anchor="middle" fill="#000" stroke="#000" stroke-width="0.3">200</text>
<text transform="translate(1953.10,527.30) scale(0.7940,1)" font-size="28.4" text-anchor="middle" fill="#000" stroke="#000" stroke-width="0.3">400</text>
<text transform="translate(2036.90,527.30) scale(0.7940,1)" font-size="28.4" text-anchor="middle" fill="#000" stroke="#000" stroke-width="0.3">600</text>
<text transform="translate(2120.70,527.30) scale(0.7940,1)" font-size="28.4" text-anchor="middle" fill="#000" stroke="#000" stroke-width="0.3">800</text>
<text transform="translate(2204.50,527.30) scale(0.7940,1)" font-size="28.4" text-anchor="middle" fill="#000" stroke="#000" stroke-width="0.3">1000</text>
<text transform="translate(1777.20,89.35) scale(0.7940,1)" font-size="28.4" text-anchor="end" fill="#000" stroke="#000" stroke-width="0.3">1000</text>
<text transform="translate(1777.20,166.72) scale(0.7940,1)" font-size="28.4" text-anchor="end" fill="#000" stroke="#000" stroke-width="0.3">800</text>
<text transform="translate(1777.20,250.69) scale(0.7940,1)" font-size="28.4" text-anchor="end" fill="#000" stroke="#000" stroke-width="0.3">600</text>
<text transform="translate(1777.20,334.66) scale(0.7940,1)" font-size="28.4" text-anchor="end" fill="#000" stroke="#000" stroke-width="0.3">400</text>
<text transform="translate(1777.20,418.63) scale(0.7940,1)" font-size="28.4" text-anchor="end" fill="#000" stroke="#000" stroke-width="0.3">200</text>
<text transform="translate(1777.20,492.30) scale(0.7940,1)" font-size="28.4" text-anchor="end" fill="#000" stroke="#000" stroke-width="0.3">0</text>
<text transform="translate(1992.50,44.05) scale(0.7851,1)" font-size="28.4" text-anchor="middle" fill="#000" stroke="#000" stroke-width="0.3">correlation 0.911</text>
<text transform="translate(1995.00,557.00) scale(0.7999,1)" text-anchor="middle" stroke="#000" stroke-width="0.3"><tspan font-size="28.4">IPS Tomography V (km s</tspan><tspan dy="-12.07" font-size="13.35">-1</tspan><tspan dy="12.07" font-size="28.4">)</tspan></text>
<text transform="translate(1706.00,282.68) rotate(-90) scale(0.7881,1)" text-anchor="middle" stroke="#000" stroke-width="0.3"><tspan font-size="28.4">ACE V (km s</tspan><tspan dy="-12.07" font-size="11.36">-1</tspan><tspan dy="12.07" font-size="28.4">)</tspan></text>
<path d="M2122.3 103.7h6.9M2125.8 100.3v6.9M2122.4 100.4l6.7 6.7M2122.4 107.1l6.7 -6.7M2114.7 115.2h6.9M2118.2 111.7v6.9M2114.8 111.8l6.7 6.7M2114.8 118.5l6.7 -6.7M2107.1 125.6h6.9M2110.5 122.1v6.9M2107.2 122.2l6.7 6.7M2107.2 128.9l6.7 -6.7M2100.3 134.2h6.9M2103.7 130.7v6.9M2100.4 130.8l6.7 6.7M2100.4 137.5l6.7 -6.7M2114.5 136.2h6.9M2117.9 132.8v6.9M2114.6 132.9l6.7 6.7M2114.6 139.6l6.7 -6.7M2093.7 148.1h6.9M2097.1 144.7v6.9M2093.8 144.8l6.7 6.7M2093.8 151.4l6.7 -6.7M2106.9 157.5h6.9M2110.3 154.1v6.9M2107.0 154.2l6.7 6.7M2107.0 160.9l6.7 -6.7M2087.3 162.9h6.9M2090.7 159.5v6.9M2087.4 159.6l6.7 6.7M2087.4 166.3l6.7 -6.7M2081.0 173.5h6.9M2084.4 170.0v6.9M2081.1 170.1l6.7 6.7M2081.1 176.8l6.7 -6.7M2074.6 186.0h6.9M2078.0 182.5v6.9M2074.7 182.6l6.7 6.7M2074.7 189.3l6.7 -6.7M2094.5 189.0h6.9M2097.9 185.6v6.9M2094.6 185.7l6.7 6.7M2094.6 192.4l6.7 -6.7M2068.3 200.2h6.9M2071.7 196.8v6.9M2068.4 196.9l6.7 6.7M2068.4 203.6l6.7 -6.7M2073.4 200.7h6.9M2076.8 197.3v6.9M2073.5 197.4l6.7 6.7M2073.5 204.1l6.7 -6.7M2077.4 199.2h6.9M2080.9 195.7v6.9M2077.5 195.8l6.7 6.7M2077.5 202.5l6.7 -6.7M2074.4 204.6h6.9M2077.8 201.2v6.9M2074.5 201.3l6.7 6.7M2074.5 208.0l6.7 -6.7M2070.3 212.3h6.9M2073.8 208.8v6.9M2070.4 208.9l6.7 6.7M2070.4 215.6l6.7 -6.7M2062.2 211.3h6.9M2065.6 207.8v6.9M2062.3 207.9l6.7 6.7M2062.3 214.6l6.7 -6.7M2064.4 219.4h6.9M2067.9 215.9v6.9M2064.5 216.0l6.7 6.7M2064.5 222.7l6.7 -6.7M2056.6 222.4h6.9M2060.1 219.0v6.9M2056.7 219.1l6.7 6.7M2056.7 225.8l6.7 -6.7M2058.6 226.0h6.9M2062.1 222.5v6.9M2058.7 222.6l6.7 6.7M2058.7 229.3l6.7 -6.7M2082.5 223.4h6.9M2086.0 220.0v6.9M2082.6 220.1l6.7 6.7M2082.6 226.8l6.7 -6.7M2047.0 214.3h6.9M2050.4 210.8v6.9M2047.1 211.0l6.7 6.7M2047.1 217.6l6.7 -6.7M2044.9 217.3h6.9M2048.4 213.9v6.9M2045.0 214.0l6.7 6.7M2045.0 220.7l6.7 -6.7M2048.5 218.4h6.9M2051.9 214.9v6.9M2048.6 215.0l6.7 6.7M2048.6 221.7l6.7 -6.7M2038.8 221.9h6.9M2042.3 218.5v6.9M2038.9 218.6l6.7 6.7M2038.9 225.3l6.7 -6.7M2042.9 222.9h6.9M2046.3 219.5v6.9M2043.0 219.6l6.7 6.7M2043.0 226.3l6.7 -6.7M2045.9 224.5h6.9M2049.4 221.0v6.9M2046.0 221.1l6.7 6.7M2046.0 227.8l6.7 -6.7M2034.3 230.0h6.9M2037.7 226.6v6.9M2034.4 226.7l6.7 6.7M2034.4 233.4l6.7 -6.7M2037.8 230.6h6.9M2041.3 227.1v6.9M2037.9 227.2l6.7 6.7M2037.9 233.9l6.7 -6.7M2041.4 229.5h6.9M2044.8 226.1v6.9M2041.5 226.2l6.7 6.7M2041.5 232.9l6.7 -6.7M2049.0 230.0h6.9M2052.4 226.6v6.9M2049.1 226.7l6.7 6.7M2049.1 233.4l6.7 -6.7M2050.0 234.1h6.9M2053.4 230.7v6.9M2050.1 230.8l6.7 6.7M2050.1 237.5l6.7 -6.7M2026.6 238.7h6.9M2030.1 235.2v6.9M2026.7 235.3l6.7 6.7M2026.7 242.0l6.7 -6.7M2029.7 239.7h6.9M2033.1 236.2v6.9M2029.8 236.3l6.7 6.7M2029.8 243.0l6.7 -6.7M2042.4 239.2h6.9M2045.8 235.7v6.9M2042.5 235.8l6.7 6.7M2042.5 242.5l6.7 -6.7M2022.6 245.8h6.9M2026.0 242.3v6.9M2022.7 242.4l6.7 6.7M2022.7 249.1l6.7 -6.7M2025.6 246.8h6.9M2029.1 243.4v6.9M2025.7 243.5l6.7 6.7M2025.7 250.1l6.7 -6.7M2034.8 247.8h6.9M2038.2 244.4v6.9M2034.9 244.5l6.7 6.7M2034.9 251.2l6.7 -6.7M2041.9 245.8h6.9M2045.3 242.3v6.9M2042.0 242.4l6.7 6.7M2042.0 249.1l6.7 -6.7M2019.5 250.4h6.9M2023.0 246.9v6.9M2019.6 247.0l6.7 6.7M2019.6 253.7l6.7 -6.7M2022.6 252.9h6.9M2026.0 249.4v6.9M2022.7 249.6l6.7 6.7M2022.7 256.2l6.7 -6.7M2026.6 253.9h6.9M2030.1 250.5v6.9M2026.7 250.6l6.7 6.7M2026.7 257.3l6.7 -6.7M2029.7 254.9h6.9M2033.1 251.5v6.9M2029.8 251.6l6.7 6.7M2029.8 258.3l6.7 -6.7M2070.1 251.4h6.9M2073.6 247.9v6.9M2070.2 248.0l6.7 6.7M2070.2 254.7l6.7 -6.7M2010.4 257.0h6.9M2013.8 253.5v6.9M2010.5 253.6l6.7 6.7M2010.5 260.3l6.7 -6.7M2013.4 258.0h6.9M2016.9 254.5v6.9M2013.5 254.6l6.7 6.7M2013.5 261.3l6.7 -6.7M2016.5 259.0h6.9M2019.9 255.5v6.9M2016.6 255.6l6.7 6.7M2016.6 262.3l6.7 -6.7M2019.5 260.0h6.9M2023.0 256.6v6.9M2019.6 256.7l6.7 6.7M2019.6 263.4l6.7 -6.7M2007.3 261.0h6.9M2010.8 257.6v6.9M2007.4 257.7l6.7 6.7M2007.4 264.4l6.7 -6.7M2004.3 264.1h6.9M2007.7 260.6v6.9M2004.4 260.7l6.7 6.7M2004.4 267.4l6.7 -6.7M2001.2 266.1h6.9M2004.7 262.7v6.9M2001.3 262.8l6.7 6.7M2001.3 269.4l6.7 -6.7M1998.2 268.1h6.9M2001.6 264.7v6.9M1998.3 264.8l6.7 6.7M1998.3 271.5l6.7 -6.7M2010.4 264.1h6.9M2013.8 260.6v6.9M2010.5 260.7l6.7 6.7M2010.5 267.4l6.7 -6.7M2013.4 265.1h6.9M2016.9 261.6v6.9M2013.5 261.7l6.7 6.7M2013.5 268.4l6.7 -6.7M2016.5 266.1h6.9M2019.9 262.7v6.9M2016.6 262.8l6.7 6.7M2016.6 269.4l6.7 -6.7M2007.3 268.1h6.9M2010.8 264.7v6.9M2007.4 264.8l6.7 6.7M2007.4 271.5l6.7 -6.7M2004.3 270.2h6.9M2007.7 266.7v6.9M2004.4 266.8l6.7 6.7M2004.4 273.5l6.7 -6.7M2001.2 272.2h6.9M2004.7 268.7v6.9M2001.3 268.9l6.7 6.7M2001.3 275.5l6.7 -6.7M2009.4 271.2h6.9M2012.8 267.7v6.9M2009.5 267.8l6.7 6.7M2009.5 274.5l6.7 -6.7M2018.3 275.8h6.9M2021.8 272.3v6.9M2018.4 272.4l6.7 6.7M2018.4 279.1l6.7 -6.7M2057.8 276.3h6.9M2061.3 272.8v6.9M2057.9 272.9l6.7 6.7M2057.9 279.6l6.7 -6.7M1997.2 273.2h6.9M2000.6 269.8v6.9M1997.3 269.9l6.7 6.7M1997.3 276.6l6.7 -6.7M1995.1 276.3h6.9M1998.6 272.8v6.9M1995.3 272.9l6.7 6.7M1995.3 279.6l6.7 -6.7M1992.1 279.3h6.9M1995.6 275.9v6.9M1992.2 276.0l6.7 6.7M1992.2 282.7l6.7 -6.7M1989.1 282.4h6.9M1992.5 278.9v6.9M1989.2 279.0l6.7 6.7M1989.2 285.7l6.7 -6.7M1986.0 284.4h6.9M1989.5 280.9v6.9M1986.1 281.0l6.7 6.7M1986.1 287.7l6.7 -6.7M2018.8 287.1h6.9M2022.3 283.7v6.9M2018.9 283.8l6.7 6.7M2018.9 290.5l6.7 -6.7M1983.0 288.4h6.9M1986.4 285.0v6.9M1983.1 285.1l6.7 6.7M1983.1 291.8l6.7 -6.7M2048.7 295.9h6.9M2052.1 292.4v6.9M2048.8 292.5l6.7 6.7M2048.8 299.2l6.7 -6.7M2023.6 302.4h6.9M2027.0 298.9v6.9M2023.7 299.0l6.7 6.7M2023.7 305.7l6.7 -6.7M1982.9 292.0h6.9M1986.3 288.6v6.9M1983.0 288.7l6.7 6.7M1983.0 295.4l6.7 -6.7M1979.8 294.6h6.9M1983.3 291.1v6.9M1979.9 291.2l6.7 6.7M1979.9 297.9l6.7 -6.7M1976.8 296.1h6.9M1980.2 292.6v6.9M1976.9 292.7l6.7 6.7M1976.9 299.4l6.7 -6.7M1973.7 298.1h6.9M1977.2 294.7v6.9M1973.9 294.8l6.7 6.7M1973.9 301.5l6.7 -6.7M1977.8 300.2h6.9M1981.3 296.7v6.9M1977.9 296.8l6.7 6.7M1977.9 303.5l6.7 -6.7M1974.8 302.2h6.9M1978.2 298.7v6.9M1974.9 298.8l6.7 6.7M1974.9 305.5l6.7 -6.7M1971.7 301.2h6.9M1975.2 297.7v6.9M1971.8 297.8l6.7 6.7M1971.8 304.5l6.7 -6.7M1968.7 305.2h6.9M1972.1 301.8v6.9M1968.8 301.9l6.7 6.7M1968.8 308.6l6.7 -6.7M1971.7 306.3h6.9M1975.2 302.8v6.9M1971.8 302.9l6.7 6.7M1971.8 309.6l6.7 -6.7M1975.8 306.3h6.9M1979.2 302.8v6.9M1975.9 302.9l6.7 6.7M1975.9 309.6l6.7 -6.7M1967.7 309.3h6.9M1971.1 305.8v6.9M1967.8 306.0l6.7 6.7M1967.8 312.6l6.7 -6.7M1970.7 310.3h6.9M1974.1 306.9v6.9M1970.8 307.0l6.7 6.7M1970.8 313.7l6.7 -6.7M1974.8 311.8h6.9M1978.2 308.4v6.9M1974.9 308.5l6.7 6.7M1974.9 315.2l6.7 -6.7M1963.6 310.3h6.9M1967.0 306.9v6.9M1963.7 307.0l6.7 6.7M1963.7 313.7l6.7 -6.7M1960.0 315.4h6.9M1963.5 311.9v6.9M1960.1 312.0l6.7 6.7M1960.1 318.7l6.7 -6.7M1957.5 320.5h6.9M1960.9 317.0v6.9M1957.6 317.1l6.7 6.7M1957.6 323.8l6.7 -6.7M1954.4 324.5h6.9M1957.9 321.1v6.9M1954.6 321.2l6.7 6.7M1954.6 327.9l6.7 -6.7M1951.9 328.1h6.9M1955.4 324.6v6.9M1952.0 324.7l6.7 6.7M1952.0 331.4l6.7 -6.7M1949.4 330.6h6.9M1952.8 327.2v6.9M1949.5 327.3l6.7 6.7M1949.5 334.0l6.7 -6.7M1948.4 333.7h6.9M1951.8 330.2v6.9M1948.5 330.3l6.7 6.7M1948.5 337.0l6.7 -6.7M1949.9 336.2h6.9M1953.3 332.8v6.9M1950.0 332.9l6.7 6.7M1950.0 339.6l6.7 -6.7M1951.4 338.8h6.9M1954.9 335.3v6.9M1951.5 335.4l6.7 6.7M1951.5 342.1l6.7 -6.7M1973.7 313.9h6.9M1977.2 310.4v6.9M1973.9 310.5l6.7 6.7M1973.9 317.2l6.7 -6.7M2027.9 314.2h6.9M2031.3 310.7v6.9M2028.0 310.8l6.7 6.7M2028.0 317.5l6.7 -6.7M2033.7 325.0h6.9M2037.1 321.6v6.9M2033.8 321.7l6.7 6.7M2033.8 328.4l6.7 -6.7M2039.3 326.4h6.9M2042.7 322.9v6.9M2039.4 323.0l6.7 6.7M2039.4 329.7l6.7 -6.7" stroke="#000" stroke-width="2.1" fill="none"/>
<path d="M2122.9 103.7a2.9 2.9 0 1 0 5.8 0a2.9 2.9 0 1 0 -5.8 0zM2115.3 115.2a2.9 2.9 0 1 0 5.8 0a2.9 2.9 0 1 0 -5.8 0zM2107.6 125.6a2.9 2.9 0 1 0 5.8 0a2.9 2.9 0 1 0 -5.8 0zM2100.8 134.2a2.9 2.9 0 1 0 5.8 0a2.9 2.9 0 1 0 -5.8 0zM2115.0 136.2a2.9 2.9 0 1 0 5.8 0a2.9 2.9 0 1 0 -5.8 0zM2094.2 148.1a2.9 2.9 0 1 0 5.8 0a2.9 2.9 0 1 0 -5.8 0zM2107.4 157.5a2.9 2.9 0 1 0 5.8 0a2.9 2.9 0 1 0 -5.8 0zM2087.8 162.9a2.9 2.9 0 1 0 5.8 0a2.9 2.9 0 1 0 -5.8 0zM2081.5 173.5a2.9 2.9 0 1 0 5.8 0a2.9 2.9 0 1 0 -5.8 0zM2075.1 186.0a2.9 2.9 0 1 0 5.8 0a2.9 2.9 0 1 0 -5.8 0zM2095.0 189.0a2.9 2.9 0 1 0 5.8 0a2.9 2.9 0 1 0 -5.8 0zM2068.8 200.2a2.9 2.9 0 1 0 5.8 0a2.9 2.9 0 1 0 -5.8 0zM2073.9 200.7a2.9 2.9 0 1 0 5.8 0a2.9 2.9 0 1 0 -5.8 0zM2078.0 199.2a2.9 2.9 0 1 0 5.8 0a2.9 2.9 0 1 0 -5.8 0zM2074.9 204.6a2.9 2.9 0 1 0 5.8 0a2.9 2.9 0 1 0 -5.8 0zM2070.9 212.3a2.9 2.9 0 1 0 5.8 0a2.9 2.9 0 1 0 -5.8 0zM2062.7 211.3a2.9 2.9 0 1 0 5.8 0a2.9 2.9 0 1 0 -5.8 0zM2065.0 219.4a2.9 2.9 0 1 0 5.8 0a2.9 2.9 0 1 0 -5.8 0zM2057.2 222.4a2.9 2.9 0 1 0 5.8 0a2.9 2.9 0 1 0 -5.8 0zM2059.2 226.0a2.9 2.9 0 1 0 5.8 0a2.9 2.9 0 1 0 -5.8 0zM2083.1 223.4a2.9 2.9 0 1 0 5.8 0a2.9 2.9 0 1 0 -5.8 0zM2047.5 214.3a2.9 2.9 0 1 0 5.8 0a2.9 2.9 0 1 0 -5.8 0zM2045.5 217.3a2.9 2.9 0 1 0 5.8 0a2.9 2.9 0 1 0 -5.8 0zM2049.0 218.4a2.9 2.9 0 1 0 5.8 0a2.9 2.9 0 1 0 -5.8 0zM2039.4 221.9a2.9 2.9 0 1 0 5.8 0a2.9 2.9 0 1 0 -5.8 0zM2043.4 222.9a2.9 2.9 0 1 0 5.8 0a2.9 2.9 0 1 0 -5.8 0zM2046.5 224.5a2.9 2.9 0 1 0 5.8 0a2.9 2.9 0 1 0 -5.8 0zM2034.8 230.0a2.9 2.9 0 1 0 5.8 0a2.9 2.9 0 1 0 -5.8 0zM2038.4 230.6a2.9 2.9 0 1 0 5.8 0a2.9 2.9 0 1 0 -5.8 0zM2041.9 229.5a2.9 2.9 0 1 0 5.8 0a2.9 2.9 0 1 0 -5.8 0zM2049.5 230.0a2.9 2.9 0 1 0 5.8 0a2.9 2.9 0 1 0 -5.8 0zM2050.5 234.1a2.9 2.9 0 1 0 5.8 0a2.9 2.9 0 1 0 -5.8 0zM2027.2 238.7a2.9 2.9 0 1 0 5.8 0a2.9 2.9 0 1 0 -5.8 0zM2030.2 239.7a2.9 2.9 0 1 0 5.8 0a2.9 2.9 0 1 0 -5.8 0zM2042.9 239.2a2.9 2.9 0 1 0 5.8 0a2.9 2.9 0 1 0 -5.8 0zM2023.1 245.8a2.9 2.9 0 1 0 5.8 0a2.9 2.9 0 1 0 -5.8 0zM2026.2 246.8a2.9 2.9 0 1 0 5.8 0a2.9 2.9 0 1 0 -5.8 0zM2035.3 247.8a2.9 2.9 0 1 0 5.8 0a2.9 2.9 0 1 0 -5.8 0zM2042.4 245.8a2.9 2.9 0 1 0 5.8 0a2.9 2.9 0 1 0 -5.8 0zM2020.1 250.4a2.9 2.9 0 1 0 5.8 0a2.9 2.9 0 1 0 -5.8 0zM2023.1 252.9a2.9 2.9 0 1 0 5.8 0a2.9 2.9 0 1 0 -5.8 0zM2027.2 253.9a2.9 2.9 0 1 0 5.8 0a2.9 2.9 0 1 0 -5.8 0zM2030.2 254.9a2.9 2.9 0 1 0 5.8 0a2.9 2.9 0 1 0 -5.8 0zM2070.7 251.4a2.9 2.9 0 1 0 5.8 0a2.9 2.9 0 1 0 -5.8 0zM2010.9 257.0a2.9 2.9 0 1 0 5.8 0a2.9 2.9 0 1 0 -5.8 0zM2014.0 258.0a2.9 2.9 0 1 0 5.8 0a2.9 2.9 0 1 0 -5.8 0zM2017.0 259.0a2.9 2.9 0 1 0 5.8 0a2.9 2.9 0 1 0 -5.8 0zM2020.1 260.0a2.9 2.9 0 1 0 5.8 0a2.9 2.9 0 1 0 -5.8 0zM2007.9 261.0a2.9 2.9 0 1 0 5.8 0a2.9 2.9 0 1 0 -5.8 0zM2004.8 264.1a2.9 2.9 0 1 0 5.8 0a2.9 2.9 0 1 0 -5.8 0zM2001.8 266.1a2.9 2.9 0 1 0 5.8 0a2.9 2.9 0 1 0 -5.8 0zM1998.7 268.1a2.9 2.9 0 1 0 5.8 0a2.9 2.9 0 1 0 -5.8 0zM2010.9 264.1a2.9 2.9 0 1 0 5.8 0a2.9 2.9 0 1 0 -5.8 0zM2014.0 265.1a2.9 2.9 0 1 0 5.8 0a2.9 2.9 0 1 0 -5.8 0zM2017.0 266.1a2.9 2.9 0 1 0 5.8 0a2.9 2.9 0 1 0 -5.8 0zM2007.9 268.1a2.9 2.9 0 1 0 5.8 0a2.9 2.9 0 1 0 -5.8 0zM2004.8 270.2a2.9 2.9 0 1 0 5.8 0a2.9 2.9 0 1 0 -5.8 0zM2001.8 272.2a2.9 2.9 0 1 0 5.8 0a2.9 2.9 0 1 0 -5.8 0zM2009.9 271.2a2.9 2.9 0 1 0 5.8 0a2.9 2.9 0 1 0 -5.8 0zM2018.9 275.8a2.9 2.9 0 1 0 5.8 0a2.9 2.9 0 1 0 -5.8 0zM2058.4 276.3a2.9 2.9 0 1 0 5.8 0a2.9 2.9 0 1 0 -5.8 0zM1997.7 273.2a2.9 2.9 0 1 0 5.8 0a2.9 2.9 0 1 0 -5.8 0zM1995.7 276.3a2.9 2.9 0 1 0 5.8 0a2.9 2.9 0 1 0 -5.8 0zM1992.7 279.3a2.9 2.9 0 1 0 5.8 0a2.9 2.9 0 1 0 -5.8 0zM1989.6 282.4a2.9 2.9 0 1 0 5.8 0a2.9 2.9 0 1 0 -5.8 0zM1986.6 284.4a2.9 2.9 0 1 0 5.8 0a2.9 2.9 0 1 0 -5.8 0zM2019.4 287.1a2.9 2.9 0 1 0 5.8 0a2.9 2.9 0 1 0 -5.8 0zM1983.5 288.4a2.9 2.9 0 1 0 5.8 0a2.9 2.9 0 1 0 -5.8 0zM2049.2 295.9a2.9 2.9 0 1 0 5.8 0a2.9 2.9 0 1 0 -5.8 0zM2024.1 302.4a2.9 2.9 0 1 0 5.8 0a2.9 2.9 0 1 0 -5.8 0zM1983.4 292.0a2.9 2.9 0 1 0 5.8 0a2.9 2.9 0 1 0 -5.8 0zM1980.4 294.6a2.9 2.9 0 1 0 5.8 0a2.9 2.9 0 1 0 -5.8 0zM1977.3 296.1a2.9 2.9 0 1 0 5.8 0a2.9 2.9 0 1 0 -5.8 0zM1974.3 298.1a2.9 2.9 0 1 0 5.8 0a2.9 2.9 0 1 0 -5.8 0zM1978.4 300.2a2.9 2.9 0 1 0 5.8 0a2.9 2.9 0 1 0 -5.8 0zM1975.3 302.2a2.9 2.9 0 1 0 5.8 0a2.9 2.9 0 1 0 -5.8 0zM1972.3 301.2a2.9 2.9 0 1 0 5.8 0a2.9 2.9 0 1 0 -5.8 0zM1969.2 305.2a2.9 2.9 0 1 0 5.8 0a2.9 2.9 0 1 0 -5.8 0zM1972.3 306.3a2.9 2.9 0 1 0 5.8 0a2.9 2.9 0 1 0 -5.8 0zM1976.3 306.3a2.9 2.9 0 1 0 5.8 0a2.9 2.9 0 1 0 -5.8 0zM1968.2 309.3a2.9 2.9 0 1 0 5.8 0a2.9 2.9 0 1 0 -5.8 0zM1971.2 310.3a2.9 2.9 0 1 0 5.8 0a2.9 2.9 0 1 0 -5.8 0zM1975.3 311.8a2.9 2.9 0 1 0 5.8 0a2.9 2.9 0 1 0 -5.8 0zM1964.1 310.3a2.9 2.9 0 1 0 5.8 0a2.9 2.9 0 1 0 -5.8 0zM1960.6 315.4a2.9 2.9 0 1 0 5.8 0a2.9 2.9 0 1 0 -5.8 0zM1958.0 320.5a2.9 2.9 0 1 0 5.8 0a2.9 2.9 0 1 0 -5.8 0zM1955.0 324.5a2.9 2.9 0 1 0 5.8 0a2.9 2.9 0 1 0 -5.8 0zM1952.5 328.1a2.9 2.9 0 1 0 5.8 0a2.9 2.9 0 1 0 -5.8 0zM1949.9 330.6a2.9 2.9 0 1 0 5.8 0a2.9 2.9 0 1 0 -5.8 0zM1948.9 333.7a2.9 2.9 0 1 0 5.8 0a2.9 2.9 0 1 0 -5.8 0zM1950.4 336.2a2.9 2.9 0 1 0 5.8 0a2.9 2.9 0 1 0 -5.8 0zM1952.0 338.8a2.9 2.9 0 1 0 5.8 0a2.9 2.9 0 1 0 -5.8 0zM1974.3 313.9a2.9 2.9 0 1 0 5.8 0a2.9 2.9 0 1 0 -5.8 0zM2028.4 314.2a2.9 2.9 0 1 0 5.8 0a2.9 2.9 0 1 0 -5.8 0zM2034.2 325.0a2.9 2.9 0 1 0 5.8 0a2.9 2.9 0 1 0 -5.8 0zM2039.8 326.4a2.9 2.9 0 1 0 5.8 0a2.9 2.9 0 1 0 -5.8 0z" fill="#000"/>
<line x1="1939.60" y1="357.00" x2="2108.30" y2="157.00" stroke="#000" stroke-width="2.3" stroke-linecap="butt"/>
<rect x="96.25" y="638.75" width="419.50" height="419.00" fill="none" stroke="#000" stroke-width="2.5"/>
<path d="M114.50 638.75L114.50 642.85M114.50 1057.75L114.50 1053.65M135.47 638.75L135.47 642.85M135.47 1057.75L135.47 1053.65M156.44 638.75L156.44 642.85M156.44 1057.75L156.44 1053.65M177.41 638.75L177.41 642.85M177.41 1057.75L177.41 1053.65M198.38 638.75L198.38 642.85M198.38 1057.75L198.38 1053.65M219.35 638.75L219.35 642.85M219.35 1057.75L219.35 1053.65M240.32 638.75L240.32 642.85M240.32 1057.75L240.32 1053.65M261.29 638.75L261.29 642.85M261.29 1057.75L261.29 1053.65M282.26 638.75L282.26 642.85M282.26 1057.75L282.26 1053.65M303.23 638.75L303.23 642.85M303.23 1057.75L303.23 1053.65M324.20 638.75L324.20 642.85M324.20 1057.75L324.20 1053.65M345.17 638.75L345.17 642.85M345.17 1057.75L345.17 1053.65M366.14 638.75L366.14 642.85M366.14 1057.75L366.14 1053.65M387.11 638.75L387.11 642.85M387.11 1057.75L387.11 1053.65M408.08 638.75L408.08 642.85M408.08 1057.75L408.08 1053.65M429.05 638.75L429.05 642.85M429.05 1057.75L429.05 1053.65M450.02 638.75L450.02 642.85M450.02 1057.75L450.02 1053.65M470.99 638.75L470.99 642.85M470.99 1057.75L470.99 1053.65M491.96 638.75L491.96 642.85M491.96 1057.75L491.96 1053.65M512.93 638.75L512.93 642.85M512.93 1057.75L512.93 1053.65M114.50 638.75L114.50 646.85M114.50 1057.75L114.50 1049.65M177.41 638.75L177.41 646.85M177.41 1057.75L177.41 1049.65M240.32 638.75L240.32 646.85M240.32 1057.75L240.32 1049.65M303.23 638.75L303.23 646.85M303.23 1057.75L303.23 1049.65M366.14 638.75L366.14 646.85M366.14 1057.75L366.14 1049.65M429.05 638.75L429.05 646.85M429.05 1057.75L429.05 1049.65M491.96 638.75L491.96 646.85M491.96 1057.75L491.96 1049.65M96.25 638.75L100.35 638.75M515.75 638.75L511.65 638.75M96.25 664.94L100.35 664.94M515.75 664.94L511.65 664.94M96.25 691.12L100.35 691.12M515.75 691.12L511.65 691.12M96.25 717.31L100.35 717.31M515.75 717.31L511.65 717.31M96.25 743.50L100.35 743.50M515.75 743.50L511.65 743.50M96.25 769.69L100.35 769.69M515.75 769.69L511.65 769.69M96.25 795.88L100.35 795.88M515.75 795.88L511.65 795.88M96.25 822.06L100.35 822.06M515.75 822.06L511.65 822.06M96.25 848.25L100.35 848.25M515.75 848.25L511.65 848.25M96.25 874.44L100.35 874.44M515.75 874.44L511.65 874.44M96.25 900.62L100.35 900.62M515.75 900.62L511.65 900.62M96.25 926.81L100.35 926.81M515.75 926.81L511.65 926.81M96.25 953.00L100.35 953.00M515.75 953.00L511.65 953.00M96.25 979.19L100.35 979.19M515.75 979.19L511.65 979.19M96.25 1005.38L100.35 1005.38M515.75 1005.38L511.65 1005.38M96.25 1031.56L100.35 1031.56M515.75 1031.56L511.65 1031.56M96.25 1057.75L100.35 1057.75M515.75 1057.75L511.65 1057.75M96.25 638.75L104.35 638.75M515.75 638.75L507.65 638.75M96.25 743.50L104.35 743.50M515.75 743.50L507.65 743.50M96.25 848.25L104.35 848.25M515.75 848.25L507.65 848.25M96.25 953.00L104.35 953.00M515.75 953.00L507.65 953.00M96.25 1057.75L104.35 1057.75M515.75 1057.75L507.65 1057.75" stroke="#000" stroke-width="2.5" fill="none"/>
<text transform="translate(114.50,1092.45) scale(0.7940,1)" font-size="28.4" text-anchor="middle" fill="#000" stroke="#000" stroke-width="0.3">01/19</text>
<text transform="translate(177.41,1092.45) scale(0.7940,1)" font-size="28.4" text-anchor="middle" fill="#000" stroke="#000" stroke-width="0.3">01/22</text>
<text transform="translate(240.32,1092.45) scale(0.7940,1)" font-size="28.4" text-anchor="middle" fill="#000" stroke="#000" stroke-width="0.3">01/25</text>
<text transform="translate(303.23,1092.45) scale(0.7940,1)" font-size="28.4" text-anchor="middle" fill="#000" stroke="#000" stroke-width="0.3">01/28</text>
<text transform="translate(366.14,1092.45) scale(0.7940,1)" font-size="28.4" text-anchor="middle" fill="#000" stroke="#000" stroke-width="0.3">01/31</text>
<text transform="translate(429.05,1092.45) scale(0.7940,1)" font-size="28.4" text-anchor="middle" fill="#000" stroke="#000" stroke-width="0.3">02/03</text>
<text transform="translate(491.96,1092.45) scale(0.7940,1)" font-size="28.4" text-anchor="middle" fill="#000" stroke="#000" stroke-width="0.3">02/06</text>
<text transform="translate(89.45,655.35) scale(0.7940,1)" font-size="28.4" text-anchor="end" fill="#000" stroke="#000" stroke-width="0.3">4</text>
<text transform="translate(89.45,753.50) scale(0.7940,1)" font-size="28.4" text-anchor="end" fill="#000" stroke="#000" stroke-width="0.3">2</text>
<text transform="translate(89.45,858.25) scale(0.7940,1)" font-size="28.4" text-anchor="end" fill="#000" stroke="#000" stroke-width="0.3">0</text>
<text transform="translate(89.45,963.00) scale(0.7940,1)" font-size="28.4" text-anchor="end" fill="#000" stroke="#000" stroke-width="0.3">-2</text>
<text transform="translate(89.45,1057.45) scale(0.7940,1)" font-size="28.4" text-anchor="end" fill="#000" stroke="#000" stroke-width="0.3">-4</text>
<text transform="translate(306.00,610.05) scale(0.7983,1)" font-size="28.4" text-anchor="middle" fill="#000" stroke="#000" stroke-width="0.3">2026/02/01 09 UT</text>
<text transform="translate(306.00,1122.15) scale(0.7925,1)" font-size="28.4" text-anchor="middle" fill="#000" stroke="#000" stroke-width="0.3">start time 2026/01/18 03</text>
<text transform="translate(46.80,848.25) rotate(-90) scale(0.7756,1)" text-anchor="middle" stroke="#000" stroke-width="0.3"><tspan font-size="28.4">B</tspan><tspan dy="7.10" font-size="16.47">z</tspan><tspan dy="-7.10" font-size="28.4"> (nT)</tspan></text>
<line x1="395.20" y1="638.75" x2="395.20" y2="1057.75" stroke="#000" stroke-width="2.1" stroke-dasharray="11.2 5.9" stroke-linecap="butt"/>
<polyline points="106.9,822.8 109.8,826.8 112.8,829.8 115.8,828.8 118.8,824.8 121.8,819.8 124.8,816.3 127.7,816.9 130.7,820.8 133.7,823.8 136.7,823.4 139.7,820.8 142.6,816.9 145.6,817.5 148.6,821.8 151.6,826.8 154.6,829.4 157.5,828.2 160.5,824.8 163.5,821.4 166.5,819.8 169.5,821.4 172.5,824.8 176.4,825.8 180.4,823.8 183.4,818.9 186.4,813.9 189.4,811.9 192.3,814.9 195.3,818.3 198.3,816.9 201.3,812.9 204.3,808.3 206.6,806.3 209.2,807.5 212.2,810.9 215.2,813.9 218.2,814.9 221.2,812.9 224.1,807.9 227.1,804.3 230.1,803.6 233.1,806.9 236.1,811.9 239.0,814.5 242.0,812.9 245.0,808.9 248.0,807.5 251.0,809.9 253.9,814.9 256.9,819.8 259.9,822.2 262.9,821.4 265.9,820.8 268.9,822.8 270.8,828.8 272.8,834.8 274.8,839.7 276.8,843.7 279.8,846.1 282.8,847.3 285.8,848.7 288.1,857.9 290.1,869.8 292.1,880.7 294.7,891.7 297.7,895.7 300.7,896.6 303.6,896.6 306.6,901.6 309.6,909.6 312.0,913.9 314.6,915.5 317.6,908.6 320.5,902.6 323.5,900.6 326.5,904.6 329.5,908.0 332.5,908.6 335.4,904.6 338.4,896.6 341.4,889.7 344.4,888.7 347.4,890.7 350.3,894.7 353.7,897.2 356.9,895.7 360.3,892.1 363.3,889.3 366.2,889.3 369.2,893.7 372.2,899.6 375.2,904.6 378.2,906.6 381.2,904.6 384.1,901.6 387.1,901.2 390.1,904.6 392.7,910.6 395.1,916.5 397.5,920.5 400.0,921.1 403.0,916.5 406.0,912.5 409.0,913.1 413.0,912.5 415.9,905.6 418.5,893.7 420.9,879.8 423.3,867.8 425.9,861.5 428.9,859.5 431.8,857.9 434.4,852.9 436.4,846.0 437.8,837.7 439.8,830.8 441.8,825.8 444.8,822.8 447.7,821.4 450.7,820.8 453.7,816.9 456.7,809.9 459.7,803.0 462.7,797.0 465.6,794.0 467.6,792.4" fill="none" stroke="#008000" stroke-width="2.3" stroke-dasharray="11.3 5.8" stroke-linejoin="round" stroke-linecap="butt"/>
<polyline points="96.3,826.8 98.5,837.7 100.5,825.8 101.9,809.9 102.9,774.1 103.9,734.4 104.9,694.6 105.9,664.8 107.3,647.3 108.5,658.9 109.8,678.7 111.8,702.6 114.8,716.5 117.8,728.4 120.4,742.3 122.8,760.2 124.8,776.1 126.7,792.0 128.7,804.9 131.1,819.8 133.3,830.8 135.7,832.8 138.3,830.8 140.7,829.8 142.2,823.8 143.6,815.9 146.2,812.5 148.6,816.9 151.6,825.8 154.0,821.8 156.6,818.3 158.9,811.9 161.5,802.0 163.5,792.0 164.5,784.1 164.9,813.9 165.3,849.9 165.5,859.9 166.5,899.6 167.5,939.4 168.5,979.1 169.5,1008.9 170.1,1026.8 172.1,1041.1 173.4,1030.8 174.8,1010.9 176.4,991.1 178.0,979.1 180.0,972.2 182.8,970.2 184.0,957.3 185.4,943.4 187.4,929.4 189.4,917.5 191.3,906.6 193.9,897.6 196.3,889.7 198.7,882.7 201.3,879.4 203.9,882.7 206.6,887.3 209.2,885.3 211.8,890.7 214.2,884.1 216.8,890.7 218.6,899.6 220.6,909.6 222.5,918.5 225.1,920.5 227.7,914.5 230.1,904.6 232.5,893.3 235.1,882.7 237.7,871.8 240.0,878.8 243.0,870.8 245.6,866.2 248.4,866.2 251.0,857.5 253.6,864.2 256.3,868.8 258.9,865.8 261.5,862.3 263.9,870.8 266.9,869.8 269.8,868.8 272.8,871.8 276.8,874.2 279.8,864.8 282.4,860.3 285.4,858.9 287.7,849.9 290.7,848.3 293.1,852.3 295.7,848.3 298.7,844.4 301.7,843.0 303.6,843.0 305.6,847.0 307.6,850.9 309.2,856.3 311.2,850.3 313.6,857.9 316.0,859.9 319.1,859.5 321.9,858.3 324.5,859.5 326.9,857.9 329.9,851.5 332.5,850.3 335.4,848.3 337.8,847.0 340.4,845.0 343.0,848.0 345.8,850.3 348.4,846.4 350.3,855.5 352.9,858.3 355.3,859.5 358.3,861.5 360.3,868.8 362.7,877.4 365.7,884.1 368.2,878.8 371.2,872.8 374.2,871.4 376.8,870.2 379.2,871.8 382.2,869.4 385.1,867.4 387.5,870.8 390.1,876.2 392.7,880.7 395.1,882.7" fill="none" stroke="#000" stroke-width="2.2" stroke-linejoin="round" stroke-linecap="butt"/>
<line x1="112.75" y1="661.05" x2="158.25" y2="661.05" stroke="#000" stroke-width="2.3" stroke-linecap="butt"/>
<line x1="112.75" y1="684.05" x2="158.25" y2="684.05" stroke="#008000" stroke-width="2.3" stroke-dasharray="11.3 5.8" stroke-linecap="butt"/>
<text transform="translate(170.25,666.55) scale(0.8200,1)" font-size="23.7" text-anchor="start" fill="#000" stroke="#000" stroke-width="0.3">ACE</text>
<text transform="translate(170.25,689.75) scale(0.8271,1)" font-size="23.7" text-anchor="start" fill="#000" stroke="#000" stroke-width="0.3">IPS Tomography</text>
<rect x="653.00" y="638.75" width="417.75" height="419.00" fill="none" stroke="#000" stroke-width="2.5"/>
<path d="M653.00 638.75L653.00 642.85M653.00 1057.75L653.00 1053.65M679.11 638.75L679.11 642.85M679.11 1057.75L679.11 1053.65M705.22 638.75L705.22 642.85M705.22 1057.75L705.22 1053.65M731.33 638.75L731.33 642.85M731.33 1057.75L731.33 1053.65M757.44 638.75L757.44 642.85M757.44 1057.75L757.44 1053.65M783.55 638.75L783.55 642.85M783.55 1057.75L783.55 1053.65M809.66 638.75L809.66 642.85M809.66 1057.75L809.66 1053.65M835.77 638.75L835.77 642.85M835.77 1057.75L835.77 1053.65M861.88 638.75L861.88 642.85M861.88 1057.75L861.88 1053.65M887.98 638.75L887.98 642.85M887.98 1057.75L887.98 1053.65M914.09 638.75L914.09 642.85M914.09 1057.75L914.09 1053.65M940.20 638.75L940.20 642.85M940.20 1057.75L940.20 1053.65M966.31 638.75L966.31 642.85M966.31 1057.75L966.31 1053.65M992.42 638.75L992.42 642.85M992.42 1057.75L992.42 1053.65M1018.53 638.75L1018.53 642.85M1018.53 1057.75L1018.53 1053.65M1044.64 638.75L1044.64 642.85M1044.64 1057.75L1044.64 1053.65M1070.75 638.75L1070.75 642.85M1070.75 1057.75L1070.75 1053.65M653.00 638.75L653.00 646.85M653.00 1057.75L653.00 1049.65M757.44 638.75L757.44 646.85M757.44 1057.75L757.44 1049.65M861.88 638.75L861.88 646.85M861.88 1057.75L861.88 1049.65M966.31 638.75L966.31 646.85M966.31 1057.75L966.31 1049.65M1070.75 638.75L1070.75 646.85M1070.75 1057.75L1070.75 1049.65M653.00 638.75L657.10 638.75M1070.75 638.75L1066.65 638.75M653.00 664.94L657.10 664.94M1070.75 664.94L1066.65 664.94M653.00 691.12L657.10 691.12M1070.75 691.12L1066.65 691.12M653.00 717.31L657.10 717.31M1070.75 717.31L1066.65 717.31M653.00 743.50L657.10 743.50M1070.75 743.50L1066.65 743.50M653.00 769.69L657.10 769.69M1070.75 769.69L1066.65 769.69M653.00 795.88L657.10 795.88M1070.75 795.88L1066.65 795.88M653.00 822.06L657.10 822.06M1070.75 822.06L1066.65 822.06M653.00 848.25L657.10 848.25M1070.75 848.25L1066.65 848.25M653.00 874.44L657.10 874.44M1070.75 874.44L1066.65 874.44M653.00 900.62L657.10 900.62M1070.75 900.62L1066.65 900.62M653.00 926.81L657.10 926.81M1070.75 926.81L1066.65 926.81M653.00 953.00L657.10 953.00M1070.75 953.00L1066.65 953.00M653.00 979.19L657.10 979.19M1070.75 979.19L1066.65 979.19M653.00 1005.38L657.10 1005.38M1070.75 1005.38L1066.65 1005.38M653.00 1031.56L657.10 1031.56M1070.75 1031.56L1066.65 1031.56M653.00 1057.75L657.10 1057.75M1070.75 1057.75L1066.65 1057.75M653.00 638.75L661.10 638.75M1070.75 638.75L1062.65 638.75M653.00 743.50L661.10 743.50M1070.75 743.50L1062.65 743.50M653.00 848.25L661.10 848.25M1070.75 848.25L1062.65 848.25M653.00 953.00L661.10 953.00M1070.75 953.00L1062.65 953.00M653.00 1057.75L661.10 1057.75M1070.75 1057.75L1062.65 1057.75" stroke="#000" stroke-width="2.5" fill="none"/>
<text transform="translate(653.00,1092.45) scale(0.7940,1)" font-size="28.4" text-anchor="middle" fill="#000" stroke="#000" stroke-width="0.3">-4</text>
<text transform="translate(757.44,1092.45) scale(0.7940,1)" font-size="28.4" text-anchor="middle" fill="#000" stroke="#000" stroke-width="0.3">-2</text>
<text transform="translate(861.88,1092.45) scale(0.7940,1)" font-size="28.4" text-anchor="middle" fill="#000" stroke="#000" stroke-width="0.3">0</text>
<text transform="translate(966.31,1092.45) scale(0.7940,1)" font-size="28.4" text-anchor="middle" fill="#000" stroke="#000" stroke-width="0.3">2</text>
<text transform="translate(1070.75,1092.45) scale(0.7940,1)" font-size="28.4" text-anchor="middle" fill="#000" stroke="#000" stroke-width="0.3">4</text>
<text transform="translate(644.30,655.35) scale(0.7940,1)" font-size="28.4" text-anchor="end" fill="#000" stroke="#000" stroke-width="0.3">4</text>
<text transform="translate(644.30,753.50) scale(0.7940,1)" font-size="28.4" text-anchor="end" fill="#000" stroke="#000" stroke-width="0.3">2</text>
<text transform="translate(644.30,858.25) scale(0.7940,1)" font-size="28.4" text-anchor="end" fill="#000" stroke="#000" stroke-width="0.3">0</text>
<text transform="translate(644.30,963.00) scale(0.7940,1)" font-size="28.4" text-anchor="end" fill="#000" stroke="#000" stroke-width="0.3">-2</text>
<text transform="translate(644.30,1057.45) scale(0.7940,1)" font-size="28.4" text-anchor="end" fill="#000" stroke="#000" stroke-width="0.3">-4</text>
<text transform="translate(864.98,610.05) scale(0.7930,1)" font-size="28.4" text-anchor="middle" fill="#000" stroke="#000" stroke-width="0.3">correlation -0.020</text>
<text transform="translate(861.88,1122.15) scale(0.8005,1)" text-anchor="middle" stroke="#000" stroke-width="0.3"><tspan font-size="28.4">IPS Tomography B</tspan><tspan dy="7.10" font-size="16.47">z</tspan><tspan dy="-7.10" font-size="28.4"> (nT)</tspan></text>
<text transform="translate(603.10,848.25) rotate(-90) scale(0.7925,1)" text-anchor="middle" stroke="#000" stroke-width="0.3"><tspan font-size="28.4">ACE B</tspan><tspan dy="7.10" font-size="16.47">z</tspan><tspan dy="-7.10" font-size="28.4"> (nT)</tspan></text>
<path d="M883.6 646.9h6.9M887.0 643.5v6.9M883.7 643.6l6.7 6.7M883.7 650.3l6.7 -6.7M880.1 664.1h6.9M883.5 660.6v6.9M880.2 660.8l6.7 6.7M880.2 667.4l6.7 -6.7M885.0 696.2h6.9M888.4 692.8v6.9M885.1 692.9l6.7 6.7M885.1 699.6l6.7 -6.7M877.2 702.6h6.9M880.7 699.1v6.9M877.3 699.2l6.7 6.7M877.3 705.9l6.7 -6.7M876.7 715.0h6.9M880.2 711.5v6.9M876.8 711.6l6.7 6.7M876.8 718.3l6.7 -6.7M879.1 728.0h6.9M882.6 724.6v6.9M879.2 724.7l6.7 6.7M879.2 731.4l6.7 -6.7M883.7 742.3h6.9M887.2 738.9v6.9M883.8 739.0l6.7 6.7M883.8 745.7l6.7 -6.7M888.2 765.1h6.9M891.6 761.6v6.9M888.3 761.7l6.7 6.7M888.3 768.4l6.7 -6.7M885.6 784.0h6.9M889.1 780.5v6.9M885.7 780.6l6.7 6.7M885.7 787.3l6.7 -6.7M890.7 788.8h6.9M894.2 785.3v6.9M890.8 785.4l6.7 6.7M890.8 792.1l6.7 -6.7M883.1 801.1h6.9M886.5 797.6v6.9M883.2 797.7l6.7 6.7M883.2 804.4l6.7 -6.7M888.9 806.4h6.9M892.4 802.9v6.9M889.0 803.0l6.7 6.7M889.0 809.7l6.7 -6.7M880.4 810.1h6.9M883.9 806.6v6.9M880.5 806.7l6.7 6.7M880.5 813.4l6.7 -6.7M886.8 811.7h6.9M890.2 808.2v6.9M886.9 808.3l6.7 6.7M886.9 815.0l6.7 -6.7M890.0 815.9h6.9M893.4 812.5v6.9M890.1 812.6l6.7 6.7M890.1 819.2l6.7 -6.7M884.7 817.5h6.9M888.1 814.0v6.9M884.8 814.1l6.7 6.7M884.8 820.8l6.7 -6.7M877.3 818.6h6.9M880.7 815.1v6.9M877.4 815.2l6.7 6.7M877.4 821.9l6.7 -6.7M882.6 821.2h6.9M886.0 817.8v6.9M882.7 817.9l6.7 6.7M882.7 824.5l6.7 -6.7M877.8 822.8h6.9M881.2 819.3v6.9M877.9 819.4l6.7 6.7M877.9 826.1l6.7 -6.7M881.5 826.5h6.9M884.9 823.1v6.9M881.6 823.2l6.7 6.7M881.6 829.8l6.7 -6.7M887.9 828.6h6.9M891.3 825.2v6.9M888.0 825.3l6.7 6.7M888.0 832.0l6.7 -6.7M878.3 830.7h6.9M881.8 827.3v6.9M878.4 827.4l6.7 6.7M878.4 834.1l6.7 -6.7M882.6 831.8h6.9M886.0 828.4v6.9M882.7 828.5l6.7 6.7M882.7 835.1l6.7 -6.7M886.8 830.7h6.9M890.2 827.3v6.9M886.9 827.4l6.7 6.7M886.9 834.1l6.7 -6.7M879.4 835.0h6.9M882.8 831.5v6.9M879.5 831.6l6.7 6.7M879.5 838.3l6.7 -6.7M881.0 838.2h6.9M884.4 834.7v6.9M881.1 834.8l6.7 6.7M881.1 841.5l6.7 -6.7M810.5 842.9h6.9M813.9 839.5v6.9M810.6 839.6l6.7 6.7M810.6 846.3l6.7 -6.7M814.7 845.6h6.9M818.2 842.1v6.9M814.8 842.2l6.7 6.7M814.8 848.9l6.7 -6.7M807.3 846.6h6.9M810.7 843.2v6.9M807.4 843.3l6.7 6.7M807.4 850.0l6.7 -6.7M793.5 849.3h6.9M797.0 845.8v6.9M793.6 845.9l6.7 6.7M793.6 852.6l6.7 -6.7M798.8 848.8h6.9M802.3 845.3v6.9M798.9 845.4l6.7 6.7M798.9 852.1l6.7 -6.7M803.1 849.8h6.9M806.5 846.4v6.9M803.2 846.5l6.7 6.7M803.2 853.2l6.7 -6.7M810.5 849.8h6.9M813.9 846.4v6.9M810.6 846.5l6.7 6.7M810.6 853.2l6.7 -6.7M817.9 848.8h6.9M821.3 845.3v6.9M818.0 845.4l6.7 6.7M818.0 852.1l6.7 -6.7M824.8 851.9h6.9M828.2 848.5v6.9M824.9 848.6l6.7 6.7M824.9 855.3l6.7 -6.7M791.4 857.8h6.9M794.8 854.3v6.9M791.5 854.4l6.7 6.7M791.5 861.1l6.7 -6.7M796.7 855.1h6.9M800.1 851.7v6.9M796.8 851.8l6.7 6.7M796.8 858.5l6.7 -6.7M802.0 857.2h6.9M805.4 853.8v6.9M802.1 853.9l6.7 6.7M802.1 860.6l6.7 -6.7M806.2 858.8h6.9M809.7 855.4v6.9M806.3 855.5l6.7 6.7M806.3 862.2l6.7 -6.7M811.5 858.3h6.9M815.0 854.9v6.9M811.6 855.0l6.7 6.7M811.6 861.7l6.7 -6.7M812.6 854.1h6.9M816.0 850.6v6.9M812.7 850.7l6.7 6.7M812.7 857.4l6.7 -6.7M809.4 862.5h6.9M812.9 859.1v6.9M809.5 859.2l6.7 6.7M809.5 865.9l6.7 -6.7M804.1 867.8h6.9M807.6 864.4v6.9M804.2 864.5l6.7 6.7M804.2 871.2l6.7 -6.7M799.9 871.0h6.9M803.3 867.6v6.9M800.0 867.7l6.7 6.7M800.0 874.4l6.7 -6.7M803.1 874.2h6.9M806.5 870.8v6.9M803.2 870.9l6.7 6.7M803.2 877.6l6.7 -6.7M808.4 872.1h6.9M811.8 868.6v6.9M808.5 868.7l6.7 6.7M808.5 875.4l6.7 -6.7M813.7 872.1h6.9M817.1 868.6v6.9M813.8 868.7l6.7 6.7M813.8 875.4l6.7 -6.7M802.0 878.4h6.9M805.4 875.0v6.9M802.1 875.1l6.7 6.7M802.1 881.8l6.7 -6.7M797.8 880.6h6.9M801.2 877.1v6.9M797.9 877.2l6.7 6.7M797.9 883.9l6.7 -6.7M794.0 882.7h6.9M797.5 879.2v6.9M794.1 879.3l6.7 6.7M794.1 886.0l6.7 -6.7M814.7 878.4h6.9M818.2 875.0v6.9M814.8 875.1l6.7 6.7M814.8 881.8l6.7 -6.7M817.9 880.6h6.9M821.3 877.1v6.9M818.0 877.2l6.7 6.7M818.0 883.9l6.7 -6.7M817.4 884.8h6.9M820.8 881.4v6.9M817.5 881.5l6.7 6.7M817.5 888.2l6.7 -6.7M839.6 848.8h6.9M843.1 845.3v6.9M839.7 845.4l6.7 6.7M839.7 852.1l6.7 -6.7M852.9 850.7h6.9M856.3 847.2v6.9M853.0 847.3l6.7 6.7M853.0 854.0l6.7 -6.7M860.3 859.4h6.9M863.7 855.9v6.9M860.4 856.0l6.7 6.7M860.4 862.7l6.7 -6.7M860.3 863.6h6.9M863.7 860.2v6.9M860.4 860.3l6.7 6.7M860.4 867.0l6.7 -6.7M862.4 873.7h6.9M865.9 870.2v6.9M862.5 870.3l6.7 6.7M862.5 877.0l6.7 -6.7M867.7 873.1h6.9M871.2 869.7v6.9M867.8 869.8l6.7 6.7M867.8 876.5l6.7 -6.7M876.2 871.6h6.9M879.6 868.1v6.9M876.3 868.2l6.7 6.7M876.3 874.9l6.7 -6.7M896.9 856.7h6.9M900.3 853.3v6.9M897.0 853.4l6.7 6.7M897.0 860.1l6.7 -6.7M884.1 863.1h6.9M887.6 859.6v6.9M884.3 859.7l6.7 6.7M884.3 866.4l6.7 -6.7M888.9 864.7h6.9M892.4 861.2v6.9M889.0 861.3l6.7 6.7M889.0 868.0l6.7 -6.7M893.2 865.7h6.9M896.6 862.3v6.9M893.3 862.4l6.7 6.7M893.3 869.1l6.7 -6.7M898.5 865.7h6.9M901.9 862.3v6.9M898.6 862.4l6.7 6.7M898.6 869.1l6.7 -6.7M883.6 867.8h6.9M887.1 864.4v6.9M883.7 864.5l6.7 6.7M883.7 871.2l6.7 -6.7M888.9 868.9h6.9M892.4 865.5v6.9M889.0 865.6l6.7 6.7M889.0 872.3l6.7 -6.7M894.2 870.0h6.9M897.7 866.5v6.9M894.3 866.6l6.7 6.7M894.3 873.3l6.7 -6.7M886.8 872.1h6.9M890.2 868.6v6.9M886.9 868.7l6.7 6.7M886.9 875.4l6.7 -6.7M892.1 873.1h6.9M895.5 869.7v6.9M892.2 869.8l6.7 6.7M892.2 876.5l6.7 -6.7M891.0 879.0h6.9M894.5 875.5v6.9M891.1 875.6l6.7 6.7M891.1 882.3l6.7 -6.7M887.9 882.7h6.9M891.3 879.2v6.9M888.0 879.3l6.7 6.7M888.0 886.0l6.7 -6.7M893.2 883.7h6.9M896.6 880.3v6.9M893.3 880.4l6.7 6.7M893.3 887.1l6.7 -6.7M897.4 884.8h6.9M900.8 881.4v6.9M897.5 881.5l6.7 6.7M897.5 888.2l6.7 -6.7M901.6 885.9h6.9M905.1 882.4v6.9M901.7 882.5l6.7 6.7M901.7 889.2l6.7 -6.7M887.9 888.0h6.9M891.3 884.5v6.9M888.0 884.6l6.7 6.7M888.0 891.3l6.7 -6.7M892.1 888.0h6.9M895.5 884.5v6.9M892.2 884.6l6.7 6.7M892.2 891.3l6.7 -6.7M900.6 890.1h6.9M904.0 886.7v6.9M900.7 886.8l6.7 6.7M900.7 893.5l6.7 -6.7M888.9 892.2h6.9M892.4 888.8v6.9M889.0 888.9l6.7 6.7M889.0 895.6l6.7 -6.7M893.2 892.2h6.9M896.6 888.8v6.9M893.3 888.9l6.7 6.7M893.3 895.6l6.7 -6.7M900.6 893.3h6.9M904.0 889.8v6.9M900.7 889.9l6.7 6.7M900.7 896.6l6.7 -6.7M891.6 899.1h6.9M895.0 895.7v6.9M891.7 895.8l6.7 6.7M891.7 902.5l6.7 -6.7M903.8 904.4h6.9M907.2 901.0v6.9M903.9 901.1l6.7 6.7M903.9 907.8l6.7 -6.7M891.0 908.1h6.9M894.5 904.7v6.9M891.1 904.8l6.7 6.7M891.1 911.5l6.7 -6.7M895.3 907.1h6.9M898.7 903.6v6.9M895.4 903.7l6.7 6.7M895.4 910.4l6.7 -6.7M903.2 915.0h6.9M906.7 911.6v6.9M903.3 911.7l6.7 6.7M903.3 918.4l6.7 -6.7M895.3 917.7h6.9M898.7 914.2v6.9M895.4 914.3l6.7 6.7M895.4 921.0l6.7 -6.7M898.5 918.7h6.9M901.9 915.3v6.9M898.6 915.4l6.7 6.7M898.6 922.1l6.7 -6.7M894.3 926.1h6.9M897.7 922.7v6.9M894.4 922.8l6.7 6.7M894.4 929.5l6.7 -6.7M886.8 935.5h6.9M890.3 932.1v6.9M886.9 932.2l6.7 6.7M886.9 938.9l6.7 -6.7M891.3 940.8h6.9M894.8 937.4v6.9M891.4 937.5l6.7 6.7M891.4 944.2l6.7 -6.7M886.6 970.0h6.9M890.0 966.5v6.9M886.7 966.6l6.7 6.7M886.7 973.3l6.7 -6.7M882.2 972.0h6.9M885.6 968.5v6.9M882.3 968.6l6.7 6.7M882.3 975.3l6.7 -6.7M879.9 981.5h6.9M883.4 978.1v6.9M880.0 978.2l6.7 6.7M880.0 984.9l6.7 -6.7M880.2 1008.7h6.9M883.7 1005.2v6.9M880.3 1005.3l6.7 6.7M880.3 1012.0l6.7 -6.7M885.8 1028.0h6.9M889.2 1024.6v6.9M885.9 1024.7l6.7 6.7M885.9 1031.4l6.7 -6.7M882.9 1041.6h6.9M886.3 1038.1v6.9M883.0 1038.2l6.7 6.7M883.0 1044.9l6.7 -6.7" stroke="#000" stroke-width="2.1" fill="none"/>
<path d="M884.1 646.9a2.9 2.9 0 1 0 5.8 0a2.9 2.9 0 1 0 -5.8 0zM880.6 664.1a2.9 2.9 0 1 0 5.8 0a2.9 2.9 0 1 0 -5.8 0zM885.5 696.2a2.9 2.9 0 1 0 5.8 0a2.9 2.9 0 1 0 -5.8 0zM877.8 702.6a2.9 2.9 0 1 0 5.8 0a2.9 2.9 0 1 0 -5.8 0zM877.3 715.0a2.9 2.9 0 1 0 5.8 0a2.9 2.9 0 1 0 -5.8 0zM879.7 728.0a2.9 2.9 0 1 0 5.8 0a2.9 2.9 0 1 0 -5.8 0zM884.3 742.3a2.9 2.9 0 1 0 5.8 0a2.9 2.9 0 1 0 -5.8 0zM888.7 765.1a2.9 2.9 0 1 0 5.8 0a2.9 2.9 0 1 0 -5.8 0zM886.2 784.0a2.9 2.9 0 1 0 5.8 0a2.9 2.9 0 1 0 -5.8 0zM891.3 788.8a2.9 2.9 0 1 0 5.8 0a2.9 2.9 0 1 0 -5.8 0zM883.6 801.1a2.9 2.9 0 1 0 5.8 0a2.9 2.9 0 1 0 -5.8 0zM889.5 806.4a2.9 2.9 0 1 0 5.8 0a2.9 2.9 0 1 0 -5.8 0zM881.0 810.1a2.9 2.9 0 1 0 5.8 0a2.9 2.9 0 1 0 -5.8 0zM887.3 811.7a2.9 2.9 0 1 0 5.8 0a2.9 2.9 0 1 0 -5.8 0zM890.5 815.9a2.9 2.9 0 1 0 5.8 0a2.9 2.9 0 1 0 -5.8 0zM885.2 817.5a2.9 2.9 0 1 0 5.8 0a2.9 2.9 0 1 0 -5.8 0zM877.8 818.6a2.9 2.9 0 1 0 5.8 0a2.9 2.9 0 1 0 -5.8 0zM883.1 821.2a2.9 2.9 0 1 0 5.8 0a2.9 2.9 0 1 0 -5.8 0zM878.3 822.8a2.9 2.9 0 1 0 5.8 0a2.9 2.9 0 1 0 -5.8 0zM882.0 826.5a2.9 2.9 0 1 0 5.8 0a2.9 2.9 0 1 0 -5.8 0zM888.4 828.6a2.9 2.9 0 1 0 5.8 0a2.9 2.9 0 1 0 -5.8 0zM878.9 830.7a2.9 2.9 0 1 0 5.8 0a2.9 2.9 0 1 0 -5.8 0zM883.1 831.8a2.9 2.9 0 1 0 5.8 0a2.9 2.9 0 1 0 -5.8 0zM887.3 830.7a2.9 2.9 0 1 0 5.8 0a2.9 2.9 0 1 0 -5.8 0zM879.9 835.0a2.9 2.9 0 1 0 5.8 0a2.9 2.9 0 1 0 -5.8 0zM881.5 838.2a2.9 2.9 0 1 0 5.8 0a2.9 2.9 0 1 0 -5.8 0zM811.0 842.9a2.9 2.9 0 1 0 5.8 0a2.9 2.9 0 1 0 -5.8 0zM815.3 845.6a2.9 2.9 0 1 0 5.8 0a2.9 2.9 0 1 0 -5.8 0zM807.8 846.6a2.9 2.9 0 1 0 5.8 0a2.9 2.9 0 1 0 -5.8 0zM794.1 849.3a2.9 2.9 0 1 0 5.8 0a2.9 2.9 0 1 0 -5.8 0zM799.4 848.8a2.9 2.9 0 1 0 5.8 0a2.9 2.9 0 1 0 -5.8 0zM803.6 849.8a2.9 2.9 0 1 0 5.8 0a2.9 2.9 0 1 0 -5.8 0zM811.0 849.8a2.9 2.9 0 1 0 5.8 0a2.9 2.9 0 1 0 -5.8 0zM818.4 848.8a2.9 2.9 0 1 0 5.8 0a2.9 2.9 0 1 0 -5.8 0zM825.3 851.9a2.9 2.9 0 1 0 5.8 0a2.9 2.9 0 1 0 -5.8 0zM791.9 857.8a2.9 2.9 0 1 0 5.8 0a2.9 2.9 0 1 0 -5.8 0zM797.2 855.1a2.9 2.9 0 1 0 5.8 0a2.9 2.9 0 1 0 -5.8 0zM802.5 857.2a2.9 2.9 0 1 0 5.8 0a2.9 2.9 0 1 0 -5.8 0zM806.8 858.8a2.9 2.9 0 1 0 5.8 0a2.9 2.9 0 1 0 -5.8 0zM812.1 858.3a2.9 2.9 0 1 0 5.8 0a2.9 2.9 0 1 0 -5.8 0zM813.1 854.1a2.9 2.9 0 1 0 5.8 0a2.9 2.9 0 1 0 -5.8 0zM810.0 862.5a2.9 2.9 0 1 0 5.8 0a2.9 2.9 0 1 0 -5.8 0zM804.7 867.8a2.9 2.9 0 1 0 5.8 0a2.9 2.9 0 1 0 -5.8 0zM800.4 871.0a2.9 2.9 0 1 0 5.8 0a2.9 2.9 0 1 0 -5.8 0zM803.6 874.2a2.9 2.9 0 1 0 5.8 0a2.9 2.9 0 1 0 -5.8 0zM808.9 872.1a2.9 2.9 0 1 0 5.8 0a2.9 2.9 0 1 0 -5.8 0zM814.2 872.1a2.9 2.9 0 1 0 5.8 0a2.9 2.9 0 1 0 -5.8 0zM802.5 878.4a2.9 2.9 0 1 0 5.8 0a2.9 2.9 0 1 0 -5.8 0zM798.3 880.6a2.9 2.9 0 1 0 5.8 0a2.9 2.9 0 1 0 -5.8 0zM794.6 882.7a2.9 2.9 0 1 0 5.8 0a2.9 2.9 0 1 0 -5.8 0zM815.3 878.4a2.9 2.9 0 1 0 5.8 0a2.9 2.9 0 1 0 -5.8 0zM818.4 880.6a2.9 2.9 0 1 0 5.8 0a2.9 2.9 0 1 0 -5.8 0zM817.9 884.8a2.9 2.9 0 1 0 5.8 0a2.9 2.9 0 1 0 -5.8 0zM840.2 848.8a2.9 2.9 0 1 0 5.8 0a2.9 2.9 0 1 0 -5.8 0zM853.4 850.7a2.9 2.9 0 1 0 5.8 0a2.9 2.9 0 1 0 -5.8 0zM860.8 859.4a2.9 2.9 0 1 0 5.8 0a2.9 2.9 0 1 0 -5.8 0zM860.8 863.6a2.9 2.9 0 1 0 5.8 0a2.9 2.9 0 1 0 -5.8 0zM863.0 873.7a2.9 2.9 0 1 0 5.8 0a2.9 2.9 0 1 0 -5.8 0zM868.3 873.1a2.9 2.9 0 1 0 5.8 0a2.9 2.9 0 1 0 -5.8 0zM876.7 871.6a2.9 2.9 0 1 0 5.8 0a2.9 2.9 0 1 0 -5.8 0zM897.4 856.7a2.9 2.9 0 1 0 5.8 0a2.9 2.9 0 1 0 -5.8 0zM884.7 863.1a2.9 2.9 0 1 0 5.8 0a2.9 2.9 0 1 0 -5.8 0zM889.5 864.7a2.9 2.9 0 1 0 5.8 0a2.9 2.9 0 1 0 -5.8 0zM893.7 865.7a2.9 2.9 0 1 0 5.8 0a2.9 2.9 0 1 0 -5.8 0zM899.0 865.7a2.9 2.9 0 1 0 5.8 0a2.9 2.9 0 1 0 -5.8 0zM884.2 867.8a2.9 2.9 0 1 0 5.8 0a2.9 2.9 0 1 0 -5.8 0zM889.5 868.9a2.9 2.9 0 1 0 5.8 0a2.9 2.9 0 1 0 -5.8 0zM894.8 870.0a2.9 2.9 0 1 0 5.8 0a2.9 2.9 0 1 0 -5.8 0zM887.3 872.1a2.9 2.9 0 1 0 5.8 0a2.9 2.9 0 1 0 -5.8 0zM892.6 873.1a2.9 2.9 0 1 0 5.8 0a2.9 2.9 0 1 0 -5.8 0zM891.6 879.0a2.9 2.9 0 1 0 5.8 0a2.9 2.9 0 1 0 -5.8 0zM888.4 882.7a2.9 2.9 0 1 0 5.8 0a2.9 2.9 0 1 0 -5.8 0zM893.7 883.7a2.9 2.9 0 1 0 5.8 0a2.9 2.9 0 1 0 -5.8 0zM897.9 884.8a2.9 2.9 0 1 0 5.8 0a2.9 2.9 0 1 0 -5.8 0zM902.2 885.9a2.9 2.9 0 1 0 5.8 0a2.9 2.9 0 1 0 -5.8 0zM888.4 888.0a2.9 2.9 0 1 0 5.8 0a2.9 2.9 0 1 0 -5.8 0zM892.6 888.0a2.9 2.9 0 1 0 5.8 0a2.9 2.9 0 1 0 -5.8 0zM901.1 890.1a2.9 2.9 0 1 0 5.8 0a2.9 2.9 0 1 0 -5.8 0zM889.5 892.2a2.9 2.9 0 1 0 5.8 0a2.9 2.9 0 1 0 -5.8 0zM893.7 892.2a2.9 2.9 0 1 0 5.8 0a2.9 2.9 0 1 0 -5.8 0zM901.1 893.3a2.9 2.9 0 1 0 5.8 0a2.9 2.9 0 1 0 -5.8 0zM892.1 899.1a2.9 2.9 0 1 0 5.8 0a2.9 2.9 0 1 0 -5.8 0zM904.3 904.4a2.9 2.9 0 1 0 5.8 0a2.9 2.9 0 1 0 -5.8 0zM891.6 908.1a2.9 2.9 0 1 0 5.8 0a2.9 2.9 0 1 0 -5.8 0zM895.8 907.1a2.9 2.9 0 1 0 5.8 0a2.9 2.9 0 1 0 -5.8 0zM903.8 915.0a2.9 2.9 0 1 0 5.8 0a2.9 2.9 0 1 0 -5.8 0zM895.8 917.7a2.9 2.9 0 1 0 5.8 0a2.9 2.9 0 1 0 -5.8 0zM899.0 918.7a2.9 2.9 0 1 0 5.8 0a2.9 2.9 0 1 0 -5.8 0zM894.8 926.1a2.9 2.9 0 1 0 5.8 0a2.9 2.9 0 1 0 -5.8 0zM887.4 935.5a2.9 2.9 0 1 0 5.8 0a2.9 2.9 0 1 0 -5.8 0zM891.9 940.8a2.9 2.9 0 1 0 5.8 0a2.9 2.9 0 1 0 -5.8 0zM887.1 970.0a2.9 2.9 0 1 0 5.8 0a2.9 2.9 0 1 0 -5.8 0zM882.7 972.0a2.9 2.9 0 1 0 5.8 0a2.9 2.9 0 1 0 -5.8 0zM880.5 981.5a2.9 2.9 0 1 0 5.8 0a2.9 2.9 0 1 0 -5.8 0zM880.8 1008.7a2.9 2.9 0 1 0 5.8 0a2.9 2.9 0 1 0 -5.8 0zM886.3 1028.0a2.9 2.9 0 1 0 5.8 0a2.9 2.9 0 1 0 -5.8 0zM883.4 1041.6a2.9 2.9 0 1 0 5.8 0a2.9 2.9 0 1 0 -5.8 0z" fill="#000"/>
<line x1="779.50" y1="731.50" x2="943.70" y2="984.20" stroke="#000" stroke-width="2.3" stroke-linecap="butt"/>
<rect x="1246.25" y="622.60" width="423.00" height="424.70" fill="none" stroke="#000" stroke-width="2.9"/>
<path d="M1264.57 622.60L1264.57 628.10M1264.57 1047.30L1264.57 1041.80M1286.63 622.60L1286.63 628.10M1286.63 1047.30L1286.63 1041.80M1308.69 622.60L1308.69 628.10M1308.69 1047.30L1308.69 1041.80M1330.75 622.60L1330.75 628.10M1330.75 1047.30L1330.75 1041.80M1352.81 622.60L1352.81 628.10M1352.81 1047.30L1352.81 1041.80M1374.87 622.60L1374.87 628.10M1374.87 1047.30L1374.87 1041.80M1396.93 622.60L1396.93 628.10M1396.93 1047.30L1396.93 1041.80M1418.99 622.60L1418.99 628.10M1418.99 1047.30L1418.99 1041.80M1441.05 622.60L1441.05 628.10M1441.05 1047.30L1441.05 1041.80M1463.11 622.60L1463.11 628.10M1463.11 1047.30L1463.11 1041.80M1485.17 622.60L1485.17 628.10M1485.17 1047.30L1485.17 1041.80M1507.23 622.60L1507.23 628.10M1507.23 1047.30L1507.23 1041.80M1529.29 622.60L1529.29 628.10M1529.29 1047.30L1529.29 1041.80M1551.35 622.60L1551.35 628.10M1551.35 1047.30L1551.35 1041.80M1573.41 622.60L1573.41 628.10M1573.41 1047.30L1573.41 1041.80M1595.47 622.60L1595.47 628.10M1595.47 1047.30L1595.47 1041.80M1617.53 622.60L1617.53 628.10M1617.53 1047.30L1617.53 1041.80M1639.59 622.60L1639.59 628.10M1639.59 1047.30L1639.59 1041.80M1661.65 622.60L1661.65 628.10M1661.65 1047.30L1661.65 1041.80M1330.75 622.60L1330.75 634.60M1330.75 1047.30L1330.75 1035.30M1418.99 622.60L1418.99 634.60M1418.99 1047.30L1418.99 1035.30M1507.23 622.60L1507.23 634.60M1507.23 1047.30L1507.23 1035.30M1595.47 622.60L1595.47 634.60M1595.47 1047.30L1595.47 1035.30M1246.25 622.60L1251.75 622.60M1669.25 622.60L1663.75 622.60M1246.25 643.84L1251.75 643.84M1669.25 643.84L1663.75 643.84M1246.25 665.07L1251.75 665.07M1669.25 665.07L1663.75 665.07M1246.25 686.31L1251.75 686.31M1669.25 686.31L1663.75 686.31M1246.25 707.54L1251.75 707.54M1669.25 707.54L1663.75 707.54M1246.25 728.77L1251.75 728.77M1669.25 728.77L1663.75 728.77M1246.25 750.01L1251.75 750.01M1669.25 750.01L1663.75 750.01M1246.25 771.25L1251.75 771.25M1669.25 771.25L1663.75 771.25M1246.25 792.48L1251.75 792.48M1669.25 792.48L1663.75 792.48M1246.25 813.71L1251.75 813.71M1669.25 813.71L1663.75 813.71M1246.25 834.95L1251.75 834.95M1669.25 834.95L1663.75 834.95M1246.25 856.18L1251.75 856.18M1669.25 856.18L1663.75 856.18M1246.25 877.42L1251.75 877.42M1669.25 877.42L1663.75 877.42M1246.25 898.65L1251.75 898.65M1669.25 898.65L1663.75 898.65M1246.25 919.89L1251.75 919.89M1669.25 919.89L1663.75 919.89M1246.25 941.12L1251.75 941.12M1669.25 941.12L1663.75 941.12M1246.25 962.36L1251.75 962.36M1669.25 962.36L1663.75 962.36M1246.25 983.60L1251.75 983.60M1669.25 983.60L1663.75 983.60M1246.25 1004.83L1251.75 1004.83M1669.25 1004.83L1663.75 1004.83M1246.25 1026.07L1251.75 1026.07M1669.25 1026.07L1663.75 1026.07M1246.25 1047.30L1251.75 1047.30M1669.25 1047.30L1663.75 1047.30M1246.25 622.60L1258.25 622.60M1669.25 622.60L1657.25 622.60M1246.25 707.54L1258.25 707.54M1669.25 707.54L1657.25 707.54M1246.25 792.48L1258.25 792.48M1669.25 792.48L1657.25 792.48M1246.25 877.42L1258.25 877.42M1669.25 877.42L1657.25 877.42M1246.25 962.36L1258.25 962.36M1669.25 962.36L1657.25 962.36M1246.25 1047.30L1258.25 1047.30M1669.25 1047.30L1657.25 1047.30" stroke="#000" stroke-width="2.9" fill="none"/>
<text transform="translate(1330.75,1087.80) scale(0.8036,1)" font-size="27.6" text-anchor="middle" fill="#000">01/22</text>
<text transform="translate(1418.99,1087.80) scale(0.8036,1)" font-size="27.6" text-anchor="middle" fill="#000">01/26</text>
<text transform="translate(1507.23,1087.80) scale(0.8036,1)" font-size="27.6" text-anchor="middle" fill="#000">01/30</text>
<text transform="translate(1595.47,1087.80) scale(0.8036,1)" font-size="27.6" text-anchor="middle" fill="#000">02/03</text>
<text transform="translate(1235.95,631.90) scale(0.8100,1)" font-size="27.6" text-anchor="end" fill="#000">10</text>
<text transform="translate(1235.95,716.84) scale(0.8100,1)" font-size="27.6" text-anchor="end" fill="#000">8</text>
<text transform="translate(1235.95,801.78) scale(0.8100,1)" font-size="27.6" text-anchor="end" fill="#000">6</text>
<text transform="translate(1235.95,886.72) scale(0.8100,1)" font-size="27.6" text-anchor="end" fill="#000">4</text>
<text transform="translate(1235.95,971.66) scale(0.8100,1)" font-size="27.6" text-anchor="end" fill="#000">2</text>
<text transform="translate(1235.95,1056.60) scale(0.8100,1)" font-size="27.6" text-anchor="end" fill="#000">0</text>
<text transform="translate(1457.75,607.30) scale(0.8327,1)" font-size="27.6" text-anchor="middle" fill="#000">2026/02/01 09 UT</text>
<text transform="translate(1457.75,1123.30) scale(0.8332,1)" font-size="27.6" text-anchor="middle" fill="#000">start time 2026/01/18 03 UT</text>
<line x1="1559.70" y1="622.60" x2="1559.70" y2="1047.30" stroke="#000" stroke-width="1.9" stroke-dasharray="12 4.65" stroke-dashoffset="3.5" stroke-linecap="butt"/>
<polyline points="1247.1,955.5 1249.9,942.8 1252.7,931.4 1255.5,917.3 1258.4,898.9 1261.2,882.0 1263.3,863.6 1265.4,846.6 1267.6,831.1 1270.0,817.0 1272.8,805.7 1275.3,797.2 1277.5,790.8 1280.0,789.0 1281.7,800.0 1283.8,809.9 1285.9,822.6 1287.3,833.9 1289.2,848.1 1290.6,852.3 1294.4,852.6 1296.5,855.8 1300.8,862.2 1303.6,870.7 1306.4,882.0 1309.3,893.3 1311.4,901.1 1314.2,908.8 1317.0,916.6 1319.2,917.0 1322.0,915.2 1324.8,911.7 1327.6,909.1 1330.5,910.0 1333.3,913.1 1336.1,918.7 1338.9,924.4 1341.8,926.1 1345.3,927.6 1348.1,929.3 1351.7,930.7 1354.5,932.2 1357.3,927.9 1360.8,920.1 1364.4,911.0 1367.9,903.2 1371.4,901.1 1375.0,901.5 1377.8,903.2 1381.3,911.7 1384.2,920.1 1387.7,930.0 1390.5,939.2 1393.4,947.0 1396.2,950.5 1399.7,952.4 1402.5,954.3 1405.4,956.5 1407.5,962.1 1409.6,969.2 1411.0,971.3 1413.1,969.2 1416.0,964.9 1418.8,963.3 1421.6,964.0 1424.5,966.4 1427.3,969.9 1429.4,969.2 1431.5,962.1 1433.6,953.6 1435.8,942.3 1437.9,929.6 1440.0,916.9 1442.1,905.6 1444.2,898.9 1446.4,891.9 1449.2,884.8 1452.0,881.3 1454.8,878.9 1457.0,873.5 1459.8,866.4 1463.3,860.1 1466.9,854.8 1469.0,854.1 1472.5,861.5 1475.3,867.8 1480.3,869.5 1483.8,870.7 1486.6,873.5 1491.6,884.8 1494.4,892.6 1499.4,902.5 1504.3,907.4 1510.0,904.3 1514.9,908.1 1520.6,913.1 1527.6,921.6 1531.9,931.4 1537.5,942.8 1540.4,949.1 1542.5,952.7 1548.8,948.7 1555.2,948.4 1560.0,949.5 1566.2,942.0 1571.2,944.0 1577.5,954.0 1583.8,969.0 1588.8,979.0 1593.8,981.5 1600.0,980.3 1607.5,979.0 1615.0,978.5" fill="none" stroke="#ffa500" stroke-width="2.45" stroke-dasharray="12.8 7.4" stroke-linejoin="round" stroke-linecap="butt"/>
<polyline points="1246.2,891.6 1249.0,934.0 1251.7,962.4 1254.5,948.2 1257.2,934.0 1260.0,891.6 1262.7,919.9 1265.5,891.6 1268.2,1004.8 1271.0,1033.1 1273.7,990.7 1276.5,990.7 1279.2,919.9 1282.0,693.4 1284.7,679.2 1287.4,764.2 1290.2,806.6 1292.9,721.7 1295.7,721.7 1298.4,735.9 1301.2,735.9 1303.9,735.9 1306.7,721.7 1309.4,735.9 1312.2,750.0 1314.9,750.0 1317.7,778.3 1320.4,863.3 1323.2,877.4 1325.9,905.7 1328.6,934.0 1331.4,877.4 1334.1,919.9 1336.9,948.2 1339.6,962.4 1342.4,962.4 1345.1,976.5 1347.9,962.4 1350.6,834.9 1353.4,877.4 1356.1,891.6 1358.9,891.6 1361.6,863.3 1364.3,905.7 1367.1,863.3 1369.8,863.3 1372.6,877.4 1375.3,863.3 1378.1,976.5 1380.8,962.4 1383.6,934.0 1386.3,919.9 1389.1,919.9 1391.8,877.4 1394.6,919.9 1397.3,905.7 1400.1,905.7 1402.8,919.9 1405.5,905.7 1408.3,905.7 1411.0,905.7 1413.8,948.2 1416.5,962.4 1419.3,976.5 1422.0,1004.8 1424.8,962.4 1427.5,934.0 1430.3,934.0 1433.0,962.4 1435.8,919.9 1438.5,905.7 1441.3,990.7 1444.0,934.0 1446.7,990.7 1449.5,976.5 1452.2,1004.8 1455.0,962.4 1457.7,934.0 1460.5,919.9 1463.2,905.7 1466.0,905.7 1468.7,934.0 1471.5,905.7 1474.2,891.6 1477.0,863.3 1479.7,919.9 1482.4,820.8 1485.2,849.1 1487.9,905.7 1490.7,962.4 1493.4,891.6 1496.2,891.6 1498.9,863.3 1501.7,891.6 1504.4,891.6 1507.2,877.4 1509.9,934.0 1512.7,948.2 1515.4,948.2 1518.2,990.7 1520.9,990.7 1523.6,1033.1 1526.4,948.2 1529.1,948.2 1531.9,962.4 1534.6,976.5 1537.4,1019.0 1540.1,1019.0 1542.9,1033.1 1545.6,1004.8 1548.4,1019.0 1551.1,1033.1 1553.9,1033.1 1556.6,990.7 1559.4,1019.0" fill="none" stroke="#000" stroke-width="2.6" stroke-linejoin="miter" stroke-linecap="butt"/>
<line x1="1268.00" y1="653.40" x2="1317.00" y2="653.40" stroke="#000" stroke-width="2.5" stroke-linecap="butt"/>
<line x1="1268.00" y1="688.30" x2="1317.00" y2="688.30" stroke="#ffa500" stroke-width="2.7" stroke-dasharray="12.8 7.4" stroke-linecap="butt"/>
<text transform="translate(1335.50,661.80) scale(0.8188,1)" font-size="24.2" text-anchor="start" fill="#000">GFZ Planetary K-Index</text>
<text transform="translate(1335.50,696.60) scale(0.8195,1)" font-size="24.2" text-anchor="start" fill="#000">IPS Planetary K-Index</text>
<rect x="1796.25" y="622.60" width="423.75" height="424.70" fill="none" stroke="#000" stroke-width="2.9"/>
<path d="M1796.25 622.60L1796.25 628.10M1796.25 1047.30L1796.25 1041.80M1796.25 622.60L1801.75 622.60M2220.00 622.60L2214.50 622.60M1817.44 622.60L1817.44 628.10M1817.44 1047.30L1817.44 1041.80M1796.25 643.84L1801.75 643.84M2220.00 643.84L2214.50 643.84M1838.62 622.60L1838.62 628.10M1838.62 1047.30L1838.62 1041.80M1796.25 665.07L1801.75 665.07M2220.00 665.07L2214.50 665.07M1859.81 622.60L1859.81 628.10M1859.81 1047.30L1859.81 1041.80M1796.25 686.31L1801.75 686.31M2220.00 686.31L2214.50 686.31M1881.00 622.60L1881.00 628.10M1881.00 1047.30L1881.00 1041.80M1796.25 707.54L1801.75 707.54M2220.00 707.54L2214.50 707.54M1902.19 622.60L1902.19 628.10M1902.19 1047.30L1902.19 1041.80M1796.25 728.77L1801.75 728.77M2220.00 728.77L2214.50 728.77M1923.38 622.60L1923.38 628.10M1923.38 1047.30L1923.38 1041.80M1796.25 750.01L1801.75 750.01M2220.00 750.01L2214.50 750.01M1944.56 622.60L1944.56 628.10M1944.56 1047.30L1944.56 1041.80M1796.25 771.25L1801.75 771.25M2220.00 771.25L2214.50 771.25M1965.75 622.60L1965.75 628.10M1965.75 1047.30L1965.75 1041.80M1796.25 792.48L1801.75 792.48M2220.00 792.48L2214.50 792.48M1986.94 622.60L1986.94 628.10M1986.94 1047.30L1986.94 1041.80M1796.25 813.71L1801.75 813.71M2220.00 813.71L2214.50 813.71M2008.12 622.60L2008.12 628.10M2008.12 1047.30L2008.12 1041.80M1796.25 834.95L1801.75 834.95M2220.00 834.95L2214.50 834.95M2029.31 622.60L2029.31 628.10M2029.31 1047.30L2029.31 1041.80M1796.25 856.18L1801.75 856.18M2220.00 856.18L2214.50 856.18M2050.50 622.60L2050.50 628.10M2050.50 1047.30L2050.50 1041.80M1796.25 877.42L1801.75 877.42M2220.00 877.42L2214.50 877.42M2071.69 622.60L2071.69 628.10M2071.69 1047.30L2071.69 1041.80M1796.25 898.65L1801.75 898.65M2220.00 898.65L2214.50 898.65M2092.88 622.60L2092.88 628.10M2092.88 1047.30L2092.88 1041.80M1796.25 919.89L1801.75 919.89M2220.00 919.89L2214.50 919.89M2114.06 622.60L2114.06 628.10M2114.06 1047.30L2114.06 1041.80M1796.25 941.12L1801.75 941.12M2220.00 941.12L2214.50 941.12M2135.25 622.60L2135.25 628.10M2135.25 1047.30L2135.25 1041.80M1796.25 962.36L1801.75 962.36M2220.00 962.36L2214.50 962.36M2156.44 622.60L2156.44 628.10M2156.44 1047.30L2156.44 1041.80M1796.25 983.60L1801.75 983.60M2220.00 983.60L2214.50 983.60M2177.62 622.60L2177.62 628.10M2177.62 1047.30L2177.62 1041.80M1796.25 1004.83L1801.75 1004.83M2220.00 1004.83L2214.50 1004.83M2198.81 622.60L2198.81 628.10M2198.81 1047.30L2198.81 1041.80M1796.25 1026.07L1801.75 1026.07M2220.00 1026.07L2214.50 1026.07M2220.00 622.60L2220.00 628.10M2220.00 1047.30L2220.00 1041.80M1796.25 1047.30L1801.75 1047.30M2220.00 1047.30L2214.50 1047.30M1796.25 622.60L1796.25 634.60M1796.25 1047.30L1796.25 1035.30M1796.25 622.60L1808.25 622.60M2220.00 622.60L2208.00 622.60M1881.00 622.60L1881.00 634.60M1881.00 1047.30L1881.00 1035.30M1796.25 707.54L1808.25 707.54M2220.00 707.54L2208.00 707.54M1965.75 622.60L1965.75 634.60M1965.75 1047.30L1965.75 1035.30M1796.25 792.48L1808.25 792.48M2220.00 792.48L2208.00 792.48M2050.50 622.60L2050.50 634.60M2050.50 1047.30L2050.50 1035.30M1796.25 877.42L1808.25 877.42M2220.00 877.42L2208.00 877.42M2135.25 622.60L2135.25 634.60M2135.25 1047.30L2135.25 1035.30M1796.25 962.36L1808.25 962.36M2220.00 962.36L2208.00 962.36M2220.00 622.60L2220.00 634.60M2220.00 1047.30L2220.00 1035.30M1796.25 1047.30L1808.25 1047.30M2220.00 1047.30L2208.00 1047.30" stroke="#000" stroke-width="2.9" fill="none"/>
<text transform="translate(1796.25,1086.60) scale(0.8100,1)" font-size="27.6" text-anchor="middle" fill="#000">0</text>
<text transform="translate(1785.95,631.90) scale(0.8100,1)" font-size="27.6" text-anchor="end" fill="#000">10</text>
<text transform="translate(1881.00,1086.60) scale(0.8100,1)" font-size="27.6" text-anchor="middle" fill="#000">2</text>
<text transform="translate(1785.95,716.84) scale(0.8100,1)" font-size="27.6" text-anchor="end" fill="#000">8</text>
<text transform="translate(1965.75,1086.60) scale(0.8100,1)" font-size="27.6" text-anchor="middle" fill="#000">4</text>
<text transform="translate(1785.95,801.78) scale(0.8100,1)" font-size="27.6" text-anchor="end" fill="#000">6</text>
<text transform="translate(2050.50,1086.60) scale(0.8100,1)" font-size="27.6" text-anchor="middle" fill="#000">6</text>
<text transform="translate(1785.95,886.72) scale(0.8100,1)" font-size="27.6" text-anchor="end" fill="#000">4</text>
<text transform="translate(2135.25,1086.60) scale(0.8100,1)" font-size="27.6" text-anchor="middle" fill="#000">8</text>
<text transform="translate(1785.95,971.66) scale(0.8100,1)" font-size="27.6" text-anchor="end" fill="#000">2</text>
<text transform="translate(2220.00,1086.60) scale(0.8100,1)" font-size="27.6" text-anchor="middle" fill="#000">10</text>
<text transform="translate(1785.95,1056.60) scale(0.8100,1)" font-size="27.6" text-anchor="end" fill="#000">0</text>
<text transform="translate(2001.50,1114.00) scale(0.8307,1)" font-size="27.6" text-anchor="middle" fill="#000">IPS Planetary K-Index</text>
<text transform="translate(1749.60,845.30) rotate(-90) scale(0.8345,1)" font-size="27.6" text-anchor="middle" fill="#000">GFZ Planetary K-Index</text>
<text transform="translate(1823.30,664.00) scale(0.8560,1)" font-size="24.0" text-anchor="start" fill="#000">Correlation 0.363</text>
<path d="M2027.8 677.6l3.3 3.3M2027.8 680.9l3.3 -3.3M1958.3 720.0l3.3 3.3M1958.3 723.3l3.3 -3.3M1988.3 720.0l3.3 3.3M1988.3 723.3l3.3 -3.3M1977.8 734.2l3.3 3.3M1977.8 737.5l3.3 -3.3M1937.6 748.4l3.3 3.3M1937.6 751.7l3.3 -3.3M1924.6 776.7l3.3 3.3M1924.6 780.0l3.3 -3.3M1986.3 805.0l3.3 3.3M1986.3 808.3l3.3 -3.3M1972.6 819.1l3.3 3.3M1972.6 822.4l3.3 -3.3M1910.3 833.3l3.3 3.3M1910.3 836.6l3.3 -3.3M1923.2 861.6l3.3 3.3M1923.2 864.9l3.3 -3.3M1937.1 861.6l3.3 3.3M1937.1 864.9l3.3 -3.3M1940.4 861.6l3.3 3.3M1940.4 864.9l3.3 -3.3M1972.6 861.6l3.3 3.3M1972.6 864.9l3.3 -3.3M1926.9 875.8l3.3 3.3M1926.9 879.1l3.3 -3.3M1940.9 875.8l3.3 3.3M1940.9 879.1l3.3 -3.3M1885.4 889.9l3.3 3.3M1885.4 893.2l3.3 -3.3M1910.2 889.9l3.3 3.3M1910.2 893.2l3.3 -3.3M1933.4 889.9l3.3 3.3M1933.4 893.2l3.3 -3.3M1952.3 889.9l3.3 3.3M1952.3 893.2l3.3 -3.3M1869.6 904.1l3.3 3.3M1869.6 907.4l3.3 -3.3M1884.8 904.1l3.3 3.3M1884.8 907.4l3.3 -3.3M1890.8 904.1l3.3 3.3M1890.8 907.4l3.3 -3.3M1916.0 904.1l3.3 3.3M1916.0 907.4l3.3 -3.3M1966.8 904.1l3.3 3.3M1966.8 907.4l3.3 -3.3M1982.6 904.1l3.3 3.3M1982.6 907.4l3.3 -3.3M1986.3 904.1l3.3 3.3M1986.3 907.4l3.3 -3.3M1889.8 918.2l3.3 3.3M1889.8 921.5l3.3 -3.3M1905.9 918.2l3.3 3.3M1905.9 921.5l3.3 -3.3M1928.3 918.2l3.3 3.3M1928.3 921.5l3.3 -3.3M1966.1 918.2l3.3 3.3M1966.1 921.5l3.3 -3.3M1976.3 918.2l3.3 3.3M1976.3 921.5l3.3 -3.3M2051.8 918.2l3.3 3.3M2051.8 921.5l3.3 -3.3M1871.0 932.4l3.3 3.3M1871.0 935.7l3.3 -3.3M1926.0 932.4l3.3 3.3M1926.0 935.7l3.3 -3.3M1930.2 932.4l3.3 3.3M1930.2 935.7l3.3 -3.3M1934.4 932.4l3.3 3.3M1934.4 935.7l3.3 -3.3M1939.0 932.4l3.3 3.3M1939.0 935.7l3.3 -3.3M1943.2 932.4l3.3 3.3M1943.2 935.7l3.3 -3.3M1920.4 946.6l3.3 3.3M1920.4 949.9l3.3 -3.3M1933.5 946.6l3.3 3.3M1933.5 949.9l3.3 -3.3M1878.5 960.7l3.3 3.3M1878.5 964.0l3.3 -3.3M1881.1 960.7l3.3 3.3M1881.1 964.0l3.3 -3.3M1883.6 960.7l3.3 3.3M1883.6 964.0l3.3 -3.3M1903.4 960.7l3.3 3.3M1903.4 964.0l3.3 -3.3M1910.0 960.7l3.3 3.3M1910.0 964.0l3.3 -3.3M1912.5 960.7l3.3 3.3M1912.5 964.0l3.3 -3.3M1915.6 960.7l3.3 3.3M1915.6 964.0l3.3 -3.3M1961.8 960.7l3.3 3.3M1961.8 964.0l3.3 -3.3M1913.9 974.9l3.3 3.3M1913.9 978.2l3.3 -3.3M1937.8 974.9l3.3 3.3M1937.8 978.2l3.3 -3.3M1957.4 974.9l3.3 3.3M1957.4 978.2l3.3 -3.3M1927.8 989.0l3.3 3.3M1927.8 992.3l3.3 -3.3M2040.9 989.0l3.3 3.3M2040.9 992.3l3.3 -3.3M1879.8 1003.2l3.3 3.3M1879.8 1006.5l3.3 -3.3M2010.3 1003.2l3.3 3.3M2010.3 1006.5l3.3 -3.3M1892.8 1017.3l3.3 3.3M1892.8 1020.6l3.3 -3.3M1895.8 1017.3l3.3 3.3M1895.8 1020.6l3.3 -3.3M1898.8 1017.3l3.3 3.3M1898.8 1020.6l3.3 -3.3M1888.2 1031.5l3.3 3.3M1888.2 1034.8l3.3 -3.3M1891.2 1031.5l3.3 3.3M1891.2 1034.8l3.3 -3.3M1894.3 1031.5l3.3 3.3M1894.3 1034.8l3.3 -3.3" stroke="#000" stroke-width="3.1" fill="none" stroke-linecap="round"/>
<line x1="1837.90" y1="976.00" x2="2008.90" y2="858.70" stroke="#000" stroke-width="2.6" stroke-linecap="butt"/>
<rect x="2264.8" y="566" width="1.2" height="566" fill="#000"/>
</svg>
</body></html>
